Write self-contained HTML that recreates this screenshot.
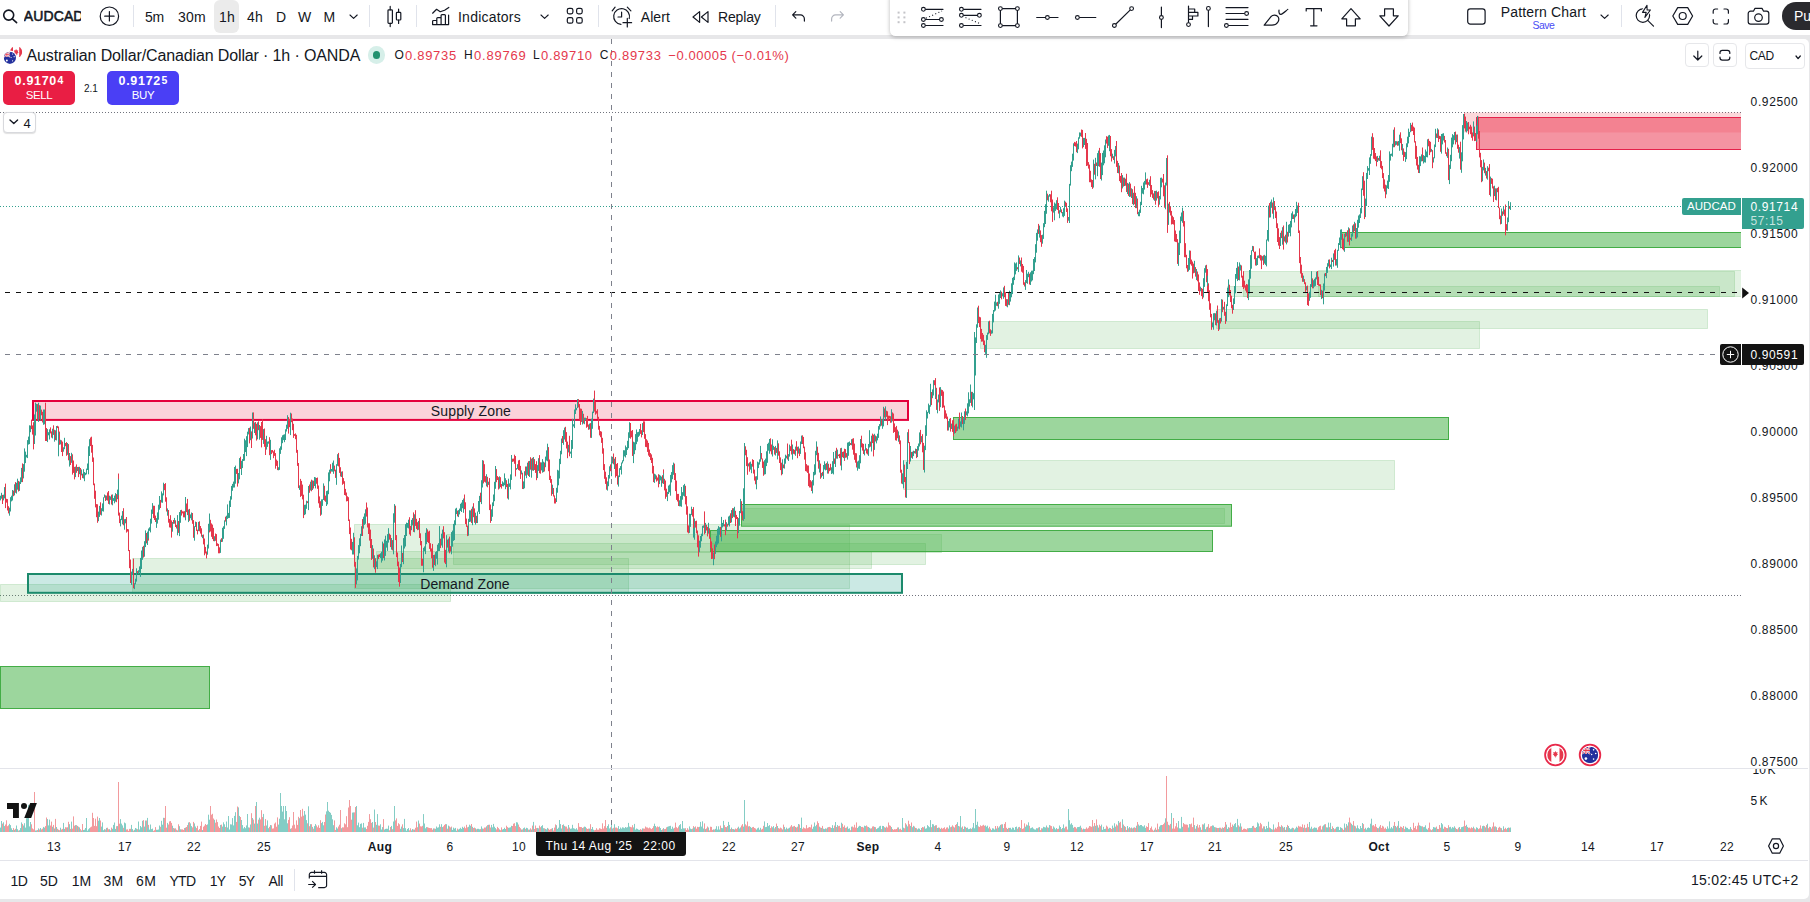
<!DOCTYPE html>
<html><head><meta charset="utf-8"><title>AUDCAD chart</title>
<style>
html,body{margin:0;padding:0}
body{width:1810px;height:902px;overflow:hidden;position:relative;background:#e7e7e9;font-family:"Liberation Sans",sans-serif;color:#131722}
.t{position:absolute;white-space:nowrap}
.i{position:absolute;overflow:visible}
#top{position:absolute;left:0;top:0;width:1810px;height:35px;background:#fff}
#pane{position:absolute;left:0;top:39px;width:1808.5px;height:859.5px;background:#fff;border-radius:0 5px 5px 0;overflow:hidden}
#float{position:absolute;left:889.5px;top:-8px;width:518px;height:43.6px;background:#fff;border-radius:5.5px;box-shadow:0 1px 4px rgba(0,0,0,.28)}
.btn{position:absolute;box-sizing:border-box;border:1px solid #e6e7ea;border-radius:4px;background:#fff}
</style></head><body>
<div id="pane"><div style="position:absolute;left:0;top:-39px;width:1810px;height:902px">
<svg style="position:absolute;left:0;top:0" width="1810" height="902" viewBox="0 0 1810 902">
<path d="M0 112.5H1741M0 595.5H1741" stroke="#70737d" stroke-width="1" stroke-dasharray="1 2" fill="none"/>
<clipPath id="plot"><rect x="0" y="39" width="1741" height="800"/></clipPath><g clip-path="url(#plot)">
<rect x="354.5" y="524.5" width="495.0" height="64.0" fill="rgba(76,175,80,0.165)" stroke="rgba(76,175,80,0.2)" stroke-width="1"/>
<rect x="446.5" y="534.5" width="495.0" height="18.0" fill="rgba(76,175,80,0.165)" stroke="rgba(76,175,80,0.2)" stroke-width="1"/>
<rect x="453.5" y="543.5" width="472.0" height="21.0" fill="rgba(76,175,80,0.165)" stroke="rgba(76,175,80,0.2)" stroke-width="1"/>
<rect x="376.5" y="551.5" width="495.0" height="17.0" fill="rgba(76,175,80,0.165)" stroke="rgba(76,175,80,0.2)" stroke-width="1"/>
<rect x="132.5" y="558.5" width="496.0" height="35.0" fill="rgba(76,175,80,0.165)" stroke="rgba(76,175,80,0.2)" stroke-width="1"/>
<rect x="0.5" y="584.5" width="450.0" height="17.0" fill="rgba(76,175,80,0.165)" stroke="rgba(76,175,80,0.2)" stroke-width="1"/>
<rect x="903.5" y="460.5" width="491.0" height="29.0" fill="rgba(76,175,80,0.165)" stroke="rgba(76,175,80,0.2)" stroke-width="1"/>
<rect x="980.5" y="321.5" width="499.0" height="27.0" fill="rgba(76,175,80,0.165)" stroke="rgba(76,175,80,0.2)" stroke-width="1"/>
<rect x="1216.5" y="309.5" width="491.0" height="19.0" fill="rgba(76,175,80,0.165)" stroke="rgba(76,175,80,0.2)" stroke-width="1"/>
<rect x="1243.5" y="271.5" width="491.0" height="25.0" fill="rgba(76,175,80,0.165)" stroke="rgba(76,175,80,0.2)" stroke-width="1"/>
<rect x="1227.5" y="286.5" width="492.0" height="10.0" fill="rgba(76,175,80,0.165)" stroke="rgba(76,175,80,0.2)" stroke-width="1"/>
<rect x="1318.5" y="270.5" width="423.0" height="26.0" fill="rgba(76,175,80,0.165)" stroke="rgba(76,175,80,0.2)" stroke-width="1"/>
<rect x="741.5" y="508.5" width="483.0" height="15.0" fill="rgba(76,175,80,0.165)" stroke="rgba(76,175,80,0.2)" stroke-width="1"/>
<rect x="0.5" y="666.5" width="209.0" height="42.0" fill="rgba(72,180,74,0.54)" stroke="#43ad46" stroke-width="1"/>
<rect x="741.5" y="504.5" width="490.0" height="21.7" fill="rgba(72,180,74,0.54)" stroke="#43ad46" stroke-width="1"/>
<rect x="710.5" y="530.5" width="502.0" height="21.0" fill="rgba(72,180,74,0.54)" stroke="#43ad46" stroke-width="1"/>
<rect x="953.5" y="417.5" width="495.0" height="22.0" fill="rgba(72,180,74,0.54)" stroke="#43ad46" stroke-width="1"/>
<rect x="1340.5" y="232.5" width="401.0" height="15.0" fill="rgba(72,180,74,0.54)" stroke="#43ad46" stroke-width="1"/>
<rect x="1464.0" y="112.5" width="277.0" height="20.0" fill="rgba(242,54,69,0.2)" stroke="none" stroke-width="0"/>
<rect x="1476.5" y="117.5" width="265.5" height="32.0" fill="rgba(235,60,85,0.55)" stroke="#e5214a" stroke-width="1"/>
</g>
<rect x="33.0" y="401.0" width="875.0" height="18.9" fill="rgba(233,30,70,0.2)" stroke="#e4003c" stroke-width="2"/>
<rect x="28.0" y="574.0" width="874.0" height="18.8" fill="rgba(8,153,129,0.21)" stroke="#1c8a6c" stroke-width="2"/>
<path d="M0 206.5H1682" stroke="#33a08f" stroke-width="1" stroke-dasharray="1 2" fill="none"/>
<path d="M2.5 494.9V504.0M5.5 483.6V508.1M6.5 498.8V502.6M7.5 499.1V510.5M8.5 506.2V513.4M13.5 490.6V496.2M15.5 482.1V492.8M18.5 480.9V491.5M22.5 463.4V482.1M31.5 419.6V429.1M32.5 425.4V434.6M33.5 422.2V449.4M37.5 404.1V419.8M39.5 405.2V419.1M41.5 409.6V415.3M42.5 411.8V422.5M45.5 402.7V441.0M46.5 428.0V441.0M50.5 427.4V433.4M51.5 431.4V437.6M53.5 425.3V434.9M55.5 430.3V440.1M57.5 425.8V428.1M58.5 426.5V450.1M59.5 431.6V444.8M61.5 440.3V452.0M62.5 441.6V456.1M65.5 443.0V446.2M66.5 442.1V455.8M68.5 444.1V460.3M70.5 456.1V465.0M72.5 454.3V474.6M73.5 460.5V472.9M74.5 466.9V479.4M76.5 464.4V472.8M78.5 466.9V477.1M80.5 468.0V479.9M82.5 473.7V478.1M90.5 437.5V446.1M91.5 436.7V452.7M92.5 444.9V461.9M93.5 457.5V485.2M94.5 483.5V498.8M95.5 490.7V507.4M96.5 504.1V517.2M97.5 504.3V522.8M100.5 502.3V514.8M105.5 495.3V501.0M107.5 492.4V500.6M108.5 491.0V503.9M111.5 494.7V504.5M116.5 494.1V502.2M118.5 473.5V515.6M119.5 512.6V523.1M123.5 508.2V525.3M126.5 517.0V532.6M127.5 529.0V531.6M128.5 529.3V551.1M129.5 550.0V568.2M130.5 559.5V583.0M133.5 558.6V588.3M137.5 571.1V572.9M143.5 545.8V557.6M146.5 533.0V543.4M148.5 530.5V540.6M153.5 505.7V518.1M154.5 505.8V520.0M155.5 515.6V522.0M160.5 499.9V508.0M164.5 484.0V490.2M165.5 483.1V501.7M166.5 497.3V511.5M168.5 510.0V522.7M169.5 518.9V527.4M170.5 515.2V527.7M171.5 520.4V537.6M173.5 520.0V523.8M175.5 520.3V527.0M176.5 524.8V528.5M178.5 521.0V532.9M179.5 512.6V523.1M181.5 509.8V515.6M182.5 511.3V513.4M183.5 511.4V517.3M184.5 511.2V517.4M186.5 503.5V512.1M187.5 498.9V515.1M189.5 508.9V520.8M192.5 513.0V523.8M193.5 520.1V537.8M196.5 522.1V530.9M197.5 529.7V534.4M199.5 521.3V531.3M200.5 526.0V533.6M201.5 528.3V536.7M203.5 534.5V544.4M204.5 538.5V555.3M205.5 546.9V553.5M206.5 551.5V558.4M209.5 515.1V532.4M210.5 519.8V531.5M211.5 523.4V536.8M212.5 524.6V539.1M213.5 527.9V541.1M215.5 533.5V540.8M216.5 534.1V546.1M217.5 543.3V545.9M218.5 543.9V553.3M219.5 547.3V553.3M221.5 538.2V542.0M225.5 516.7V521.6M236.5 468.9V473.9M237.5 468.8V486.6M240.5 456.7V469.0M249.5 427.8V443.4M251.5 431.4V448.0M253.5 412.4V428.8M255.5 422.0V435.3M256.5 423.8V440.6M258.5 421.3V430.2M260.5 426.1V437.9M261.5 422.0V447.4M262.5 419.2V439.9M264.5 428.5V446.8M265.5 439.2V455.0M269.5 442.9V447.5M269.5 437.2V455.2M271.5 450.1V454.1M272.5 450.0V452.6M273.5 451.3V458.2M274.5 449.8V455.9M275.5 453.1V468.7M276.5 459.6V465.9M277.5 460.8V470.1M288.5 417.1V433.6M289.5 418.9V427.2M291.5 413.5V422.2M292.5 418.5V430.2M293.5 423.8V437.9M294.5 434.1V435.9M295.5 433.4V439.2M296.5 434.8V452.8M297.5 449.9V465.9M298.5 463.0V488.1M300.5 478.9V494.6M300.5 486.7V496.9M301.5 480.9V495.9M302.5 484.6V499.4M303.5 494.7V518.1M307.5 501.2V503.1M309.5 484.5V492.8M311.5 479.7V491.3M313.5 480.7V488.5M316.5 478.0V483.8M317.5 477.5V488.8M318.5 485.5V503.3M319.5 496.4V507.8M320.5 501.2V515.8M324.5 485.8V500.7M325.5 495.6V501.8M330.5 464.2V473.6M334.5 465.6V471.3M335.5 469.7V477.9M338.5 452.9V466.4M339.5 457.9V472.9M340.5 467.2V476.5M342.5 471.3V484.8M343.5 478.1V483.8M344.5 481.2V495.0M345.5 488.9V495.6M346.5 492.5V501.4M347.5 496.3V501.1M348.5 497.2V521.0M349.5 519.5V534.1M350.5 527.5V549.5M351.5 538.8V550.3M354.5 537.3V566.7M355.5 561.9V587.9M362.5 519.1V536.0M366.5 502.5V516.6M367.5 507.5V527.5M368.5 523.3V534.0M369.5 523.3V540.6M370.5 529.6V548.0M371.5 539.0V559.9M373.5 548.5V567.4M375.5 558.2V572.7M378.5 554.6V559.1M379.5 554.2V557.1M383.5 543.4V558.1M389.5 533.6V539.7M390.5 534.8V543.5M390.5 537.1V547.1M392.5 540.1V550.4M395.5 505.7V540.1M396.5 535.1V557.2M397.5 552.5V566.2M398.5 561.6V582.1M399.5 567.5V586.7M402.5 552.9V562.0M409.5 517.2V534.4M410.5 525.9V535.8M413.5 512.4V531.9M415.5 510.2V525.9M416.5 518.8V528.9M417.5 522.2V530.2M419.5 518.0V538.0M420.5 533.3V545.3M421.5 541.0V565.8M421.5 550.8V562.7M422.5 558.7V565.8M427.5 529.4V542.0M428.5 531.5V543.1M429.5 530.7V548.9M430.5 543.2V551.5M431.5 548.4V558.3M432.5 543.9V567.7M434.5 554.7V565.0M440.5 538.7V548.1M443.5 526.2V538.4M444.5 532.2V562.6M445.5 549.8V564.1M447.5 539.6V547.6M449.5 536.6V553.3M450.5 546.1V551.6M451.5 544.3V553.9M457.5 510.6V516.4M464.5 494.5V509.2M465.5 502.3V524.1M466.5 518.6V526.9M467.5 525.6V536.1M471.5 508.8V523.1M473.5 503.2V517.2M474.5 508.4V522.8M476.5 515.8V523.1M480.5 492.7V502.1M483.5 460.6V483.4M484.5 464.2V481.8M485.5 476.1V482.6M487.5 476.8V487.3M489.5 478.1V510.1M490.5 504.5V522.9M496.5 469.1V482.2M497.5 476.1V480.0M498.5 477.2V489.5M500.5 477.2V487.1M501.5 484.0V488.6M506.5 480.2V487.1M507.5 483.9V498.5M512.5 458.7V461.9M513.5 458.6V461.5M514.5 454.7V463.8M515.5 456.0V476.4M518.5 460.4V470.1M519.5 459.9V470.7M520.5 465.9V478.9M522.5 472.7V489.0M525.5 466.5V475.6M528.5 461.2V476.0M530.5 457.2V469.7M532.5 457.8V470.5M534.5 459.1V470.0M535.5 464.1V472.9M536.5 461.2V480.2M539.5 455.1V473.2M540.5 462.3V473.7M542.5 461.3V472.5M544.5 462.5V471.5M548.5 447.1V471.2M549.5 459.5V480.0M550.5 475.8V482.8M551.5 479.1V495.8M553.5 488.0V496.5M554.5 495.4V503.5M555.5 498.3V503.5M562.5 436.0V443.0M565.5 426.8V441.8M566.5 432.1V448.5M567.5 441.6V458.2M569.5 435.8V456.3M578.5 399.1V407.4M579.5 404.1V419.7M580.5 408.5V424.9M581.5 408.8V421.9M583.5 413.8V423.5M586.5 418.1V427.8M587.5 415.9V426.8M588.5 424.5V429.8M590.5 423.1V437.8M594.5 390.6V411.6M595.5 401.8V414.7M596.5 410.8V413.6M597.5 409.2V418.9M598.5 416.8V429.7M599.5 425.9V435.4M600.5 431.1V437.2M601.5 431.6V442.9M602.5 437.8V448.3M602.5 439.1V453.7M603.5 448.3V470.1M604.5 464.1V478.8M605.5 471.7V483.9M606.5 477.3V489.7M610.5 464.4V471.2M613.5 453.5V464.3M615.5 457.0V477.6M616.5 463.9V476.1M617.5 463.0V484.6M630.5 423.0V438.7M631.5 430.8V437.2M632.5 430.0V455.5M632.5 446.9V455.9M640.5 423.9V433.9M641.5 430.2V437.4M643.5 421.3V432.1M644.5 421.4V438.8M645.5 434.1V446.9M646.5 439.2V447.2M647.5 440.5V451.9M648.5 442.9V455.6M649.5 449.5V457.0M650.5 453.1V460.1M651.5 454.4V463.0M652.5 457.8V473.5M653.5 465.9V482.1M656.5 475.5V481.6M657.5 477.5V480.6M658.5 474.2V487.3M662.5 475.2V483.3M663.5 469.4V483.7M664.5 478.8V490.4M665.5 480.5V498.8M666.5 488.7V496.8M674.5 463.6V480.0M675.5 473.1V491.1M676.5 480.6V499.9M677.5 493.9V501.5M678.5 493.9V506.0M685.5 485.8V504.4M686.5 496.1V514.7M687.5 506.3V532.4M688.5 525.4V533.4M692.5 509.0V516.6M693.5 507.1V533.5M695.5 521.1V527.6M696.5 520.7V533.3M697.5 530.5V547.3M698.5 535.3V556.6M704.5 511.4V534.3M706.5 524.8V530.5M707.5 526.9V536.4M709.5 528.3V538.8M710.5 537.5V548.1M711.5 541.4V559.0M712.5 548.3V558.8M714.5 544.5V559.2M720.5 526.9V536.8M723.5 520.3V526.0M724.5 524.3V526.5M725.5 519.6V535.2M727.5 523.8V526.7M730.5 513.3V523.0M732.5 508.2V518.1M735.5 510.8V526.0M736.5 514.9V519.1M737.5 517.0V538.3M741.5 501.2V515.5M742.5 511.2V520.4M745.5 446.3V455.3M746.5 449.8V466.1M747.5 457.2V474.8M749.5 462.4V471.7M752.5 459.2V466.7M753.5 460.0V473.5M753.5 468.8V473.2M754.5 469.6V480.6M755.5 476.4V484.3M761.5 453.0V459.3M762.5 458.5V467.9M763.5 461.5V475.8M770.5 438.3V451.3M771.5 444.5V454.4M774.5 447.1V454.6M776.5 447.9V452.9M778.5 443.3V455.7M779.5 451.3V463.0M780.5 457.4V470.1M781.5 462.7V475.3M783.5 464.5V468.2M787.5 443.5V459.5M790.5 446.2V451.0M791.5 439.7V454.5M793.5 449.1V453.8M794.5 449.8V454.4M796.5 441.2V450.8M797.5 446.8V458.2M799.5 448.5V456.1M802.5 435.3V444.0M803.5 436.9V448.2M804.5 446.6V459.6M805.5 452.3V471.1M806.5 464.1V471.6M807.5 465.4V472.9M808.5 465.5V486.1M809.5 473.5V487.5M810.5 480.1V487.5M811.5 481.4V491.0M817.5 446.7V461.4M818.5 452.8V468.7M820.5 463.6V478.8M822.5 471.9V475.8M826.5 463.1V469.9M828.5 463.8V473.6M829.5 467.7V471.2M830.5 463.8V470.4M834.5 458.5V463.9M836.5 447.8V458.6M838.5 454.6V456.1M839.5 453.9V458.1M840.5 448.2V465.6M842.5 451.9V457.2M843.5 451.5V458.1M844.5 448.7V460.9M845.5 449.1V457.8M846.5 453.1V457.5M850.5 443.0V445.0M852.5 438.7V449.7M853.5 438.2V454.7M854.5 443.6V459.8M855.5 453.1V462.7M856.5 453.3V467.5M861.5 435.7V447.4M862.5 443.3V450.6M863.5 443.9V454.0M866.5 448.2V453.5M867.5 449.2V454.5M870.5 441.6V446.7M872.5 433.6V443.1M873.5 434.7V456.4M875.5 435.5V441.5M881.5 419.1V425.7M884.5 408.4V417.5M886.5 410.7V416.9M887.5 411.3V425.1M888.5 415.7V420.2M889.5 415.8V418.6M890.5 416.2V422.8M892.5 412.4V421.3M893.5 413.5V432.9M894.5 423.4V432.0M895.5 427.2V440.3M896.5 425.9V440.7M897.5 429.7V438.2M899.5 435.4V444.2M900.5 440.4V472.7M901.5 469.7V483.6M904.5 464.6V482.1M905.5 477.0V489.2M905.5 478.2V497.5M908.5 429.3V443.1M909.5 442.1V464.1M911.5 451.9V457.8M914.5 451.1V453.3M916.5 449.0V458.1M920.5 429.9V444.3M922.5 434.2V452.3M923.5 442.9V469.9M931.5 392.0V405.1M934.5 380.2V385.2M935.5 378.1V399.0M936.5 387.8V409.9M939.5 387.4V410.9M941.5 389.6V395.9M942.5 390.1V407.9M943.5 391.5V407.4M944.5 405.6V418.8M945.5 410.3V418.3M946.5 413.5V419.1M947.5 416.6V430.6M950.5 418.0V431.6M952.5 420.2V431.9M953.5 419.3V436.2M955.5 424.4V433.0M956.5 423.7V431.4M959.5 412.6V429.3M962.5 416.0V424.1M965.5 409.3V413.2M965.5 408.5V420.1M971.5 391.8V405.8M978.5 305.7V323.1M979.5 316.8V327.1M980.5 317.3V338.9M981.5 328.9V341.7M982.5 333.0V341.5M983.5 334.8V345.1M984.5 340.5V352.2M989.5 320.7V333.3M990.5 329.3V335.9M995.5 296.0V306.4M997.5 301.8V306.2M1001.5 291.6V299.3M1004.5 285.8V297.2M1005.5 292.2V305.9M1006.5 299.1V306.4M1008.5 292.8V304.8M1017.5 267.2V269.3M1019.5 257.5V264.0M1021.5 257.5V271.7M1022.5 264.0V272.7M1023.5 265.9V284.8M1024.5 282.3V286.5M1026.5 277.6V283.1M1029.5 273.7V284.5M1038.5 223.9V233.9M1040.5 230.4V242.2M1041.5 235.1V246.8M1047.5 193.7V200.3M1050.5 194.3V202.3M1051.5 190.7V211.3M1052.5 199.5V221.9M1057.5 197.3V210.0M1058.5 203.0V213.6M1061.5 209.4V213.2M1065.5 201.7V206.0M1066.5 202.8V212.0M1067.5 208.4V222.9M1074.5 141.9V146.1M1075.5 142.4V146.6M1076.5 141.0V152.2M1081.5 129.5V136.9M1082.5 129.9V148.4M1085.5 133.0V148.9M1086.5 138.8V163.1M1086.5 146.8V166.0M1087.5 143.0V165.6M1088.5 162.1V168.6M1089.5 164.6V182.2M1090.5 170.8V182.3M1091.5 179.4V187.0M1092.5 180.0V188.9M1094.5 163.8V174.7M1096.5 162.5V166.0M1099.5 147.9V166.8M1100.5 153.1V179.0M1106.5 136.2V143.6M1107.5 136.7V148.1M1110.5 136.0V156.3M1111.5 149.1V161.5M1113.5 156.2V160.0M1116.5 141.0V157.4M1116.5 152.0V166.9M1117.5 160.8V173.0M1119.5 165.6V181.1M1120.5 175.9V182.8M1121.5 173.0V192.2M1123.5 177.6V186.6M1125.5 178.7V185.7M1126.5 173.8V192.0M1128.5 183.6V195.9M1130.5 183.6V196.7M1132.5 189.2V204.1M1134.5 186.2V204.3M1135.5 192.8V208.1M1137.5 198.5V214.2M1146.5 179.3V184.6M1147.5 178.6V184.0M1147.5 179.7V187.9M1148.5 182.2V184.8M1150.5 176.2V196.9M1151.5 185.0V194.4M1152.5 190.1V197.9M1153.5 193.4V199.6M1155.5 190.9V204.7M1157.5 192.1V198.3M1158.5 191.3V207.2M1162.5 178.7V182.5M1163.5 174.0V196.3M1164.5 185.3V207.7M1167.5 155.3V232.9M1169.5 201.9V212.6M1170.5 206.6V215.5M1171.5 210.9V224.5M1172.5 215.7V224.1M1173.5 217.2V224.6M1174.5 220.0V241.4M1175.5 230.5V241.9M1176.5 234.0V242.2M1177.5 239.1V263.9M1177.5 251.0V260.7M1183.5 210.9V226.5M1184.5 221.1V257.2M1185.5 243.2V257.3M1186.5 254.8V268.3M1187.5 265.0V271.9M1190.5 250.7V264.3M1191.5 259.6V265.7M1192.5 261.5V278.6M1193.5 263.6V273.3M1195.5 267.1V276.6M1197.5 271.5V281.3M1198.5 274.4V291.0M1199.5 282.4V294.8M1201.5 288.0V296.1M1202.5 288.8V299.1M1206.5 264.8V282.2M1207.5 269.1V292.9M1208.5 283.3V301.2M1209.5 290.3V309.8M1210.5 303.3V317.3M1211.5 313.9V329.8M1215.5 313.3V325.2M1217.5 305.5V322.8M1218.5 320.2V331.0M1220.5 317.9V323.5M1222.5 299.6V312.2M1224.5 301.8V315.8M1225.5 311.8V323.9M1229.5 284.7V295.3M1230.5 290.0V302.1M1231.5 295.7V308.3M1232.5 304.8V313.7M1238.5 266.5V280.0M1241.5 265.4V277.6M1242.5 275.7V287.0M1243.5 271.2V289.0M1244.5 280.7V287.6M1245.5 285.3V290.6M1246.5 284.0V292.7M1247.5 284.5V298.1M1253.5 246.2V252.2M1254.5 251.8V259.2M1255.5 251.5V265.5M1259.5 248.4V258.4M1260.5 254.9V260.5M1261.5 255.5V269.1M1263.5 255.3V265.0M1269.5 203.1V217.6M1272.5 202.5V213.7M1274.5 201.0V210.1M1275.5 207.1V218.1M1276.5 211.5V228.1M1277.5 223.3V242.0M1278.5 228.3V245.6M1279.5 237.1V249.0M1281.5 230.6V238.1M1283.5 225.5V249.6M1285.5 234.7V242.7M1287.5 231.8V242.5M1293.5 214.5V219.0M1298.5 202.7V215.8M1298.5 212.1V233.0M1299.5 230.5V263.1M1300.5 257.0V273.6M1301.5 264.7V277.8M1302.5 273.1V281.8M1304.5 279.1V284.2M1305.5 282.3V291.9M1307.5 285.6V305.1M1308.5 293.3V305.9M1312.5 278.4V288.3M1317.5 271.0V285.0M1318.5 276.8V285.7M1319.5 284.2V286.1M1320.5 284.3V295.2M1322.5 290.7V298.2M1325.5 273.0V276.2M1329.5 259.4V268.4M1332.5 259.9V262.0M1334.5 250.2V259.9M1335.5 248.8V265.6M1342.5 233.7V249.2M1343.5 238.5V250.4M1345.5 233.1V237.2M1347.5 230.3V241.8M1349.5 228.4V245.4M1350.5 237.9V239.8M1353.5 224.3V232.2M1355.5 223.3V238.7M1363.5 172.2V195.8M1364.5 180.7V219.1M1372.5 133.2V149.9M1373.5 137.3V158.7M1374.5 148.0V159.3M1375.5 153.0V161.1M1376.5 156.4V166.3M1378.5 158.0V160.6M1380.5 150.3V167.9M1381.5 161.1V169.3M1382.5 165.9V178.1M1383.5 173.1V188.6M1384.5 179.4V191.5M1385.5 184.7V198.2M1394.5 127.3V147.2M1397.5 141.4V145.8M1400.5 132.3V143.2M1401.5 138.3V150.3M1403.5 148.4V160.9M1404.5 151.7V157.0M1411.5 124.8V131.3M1412.5 122.6V131.0M1413.5 126.6V135.0M1414.5 127.6V142.5M1415.5 141.2V158.9M1416.5 145.9V165.5M1417.5 156.9V169.6M1418.5 164.8V173.0M1422.5 147.5V161.2M1428.5 138.8V146.3M1429.5 140.9V155.1M1430.5 141.8V152.3M1432.5 150.1V168.2M1436.5 133.5V137.9M1438.5 129.5V142.0M1439.5 135.8V139.1M1440.5 136.2V151.8M1444.5 135.9V142.5M1445.5 140.0V153.8M1446.5 152.3V156.2M1448.5 148.8V180.1M1455.5 131.6V144.4M1457.5 134.5V148.8M1458.5 144.7V152.7M1460.5 141.7V169.7M1464.5 113.6V128.4M1465.5 116.6V131.5M1468.5 122.0V134.3M1469.5 126.7V129.2M1470.5 124.8V134.2M1471.5 126.6V137.8M1472.5 132.4V140.7M1474.5 126.6V141.1M1475.5 132.9V140.9M1478.5 116.6V138.7M1479.5 131.0V149.2M1479.5 146.6V157.4M1480.5 152.8V167.3M1481.5 160.1V182.2M1484.5 162.6V173.2M1486.5 171.1V178.5M1488.5 167.7V171.2M1489.5 164.1V195.0M1491.5 178.1V183.9M1492.5 178.7V188.4M1493.5 186.3V202.0M1495.5 188.3V199.9M1497.5 187.9V192.2M1498.5 186.8V208.1M1499.5 207.5V219.2M1500.5 215.6V224.4M1502.5 211.4V215.9M1504.5 209.5V215.9M1505.5 204.5V235.3M1506.5 224.1V230.4M1509.5 206.0V208.8" stroke="#e5384c" stroke-width="1" fill="none"/>
<path d="M0.5 495.7V500.4M1.5 492.8V498.7M3.5 494.7V500.4M4.5 487.1V498.4M9.5 507.7V515.7M10.5 497.2V511.5M11.5 495.7V501.4M12.5 490.0V500.5M14.5 484.3V495.4M16.5 482.8V493.6M17.5 478.7V489.7M19.5 481.6V490.9M20.5 477.4V484.0M21.5 467.9V482.2M23.5 464.1V478.4M24.5 448.4V471.7M25.5 451.6V463.1M26.5 454.8V457.4M27.5 441.2V458.1M27.5 440.1V454.5M28.5 436.6V444.6M29.5 425.3V444.1M30.5 425.6V432.2M34.5 414.4V444.0M35.5 402.6V435.5M36.5 403.9V411.7M38.5 402.7V421.9M40.5 405.6V420.4M43.5 409.5V424.8M44.5 409.5V424.3M47.5 429.1V442.1M48.5 432.2V435.3M49.5 429.3V439.5M52.5 428.7V438.4M54.5 429.8V441.7M56.5 426.0V440.4M58.5 432.2V456.3M60.5 439.8V444.4M63.5 447.3V451.7M64.5 437.8V449.2M67.5 443.0V454.8M69.5 453.0V466.6M71.5 452.8V462.8M75.5 466.6V477.1M77.5 467.0V471.1M79.5 466.8V474.2M81.5 469.5V475.4M83.5 469.2V478.5M84.5 472.0V481.2M85.5 472.8V475.2M86.5 468.6V474.4M87.5 463.5V470.0M88.5 447.7V474.3M88.5 446.3V457.1M89.5 439.2V456.0M98.5 511.6V521.2M99.5 505.9V516.9M101.5 508.2V515.5M102.5 503.4V511.2M103.5 497.3V511.6M104.5 494.5V497.7M106.5 495.6V500.2M109.5 495.7V504.5M110.5 496.4V499.9M112.5 494.4V505.3M113.5 498.1V500.9M114.5 495.6V503.3M115.5 493.1V501.6M117.5 489.6V499.2M118.5 479.1V495.1M120.5 518.9V526.4M121.5 515.7V520.1M122.5 511.1V524.3M124.5 519.2V529.7M125.5 518.9V523.3M131.5 571.6V584.9M132.5 568.9V574.9M134.5 583.2V589.1M135.5 578.7V584.3M136.5 568.3V581.6M138.5 570.2V573.9M139.5 566.4V572.6M140.5 557.9V576.9M141.5 550.5V569.0M142.5 546.9V559.8M144.5 541.2V556.7M145.5 530.4V547.1M147.5 531.6V545.0M148.5 528.5V538.5M149.5 527.3V530.8M150.5 518.7V532.4M151.5 509.5V523.6M152.5 503.1V513.9M156.5 518.1V527.9M157.5 512.4V523.6M158.5 504.7V519.7M159.5 496.0V509.7M161.5 491.4V502.5M162.5 493.4V502.8M163.5 482.7V495.4M167.5 508.4V515.7M172.5 522.0V531.7M174.5 517.9V523.7M177.5 515.1V535.3M179.5 512.1V536.1M180.5 510.1V522.8M185.5 497.0V520.3M188.5 509.5V522.1M190.5 514.4V518.2M191.5 512.5V520.3M194.5 526.2V540.7M195.5 521.6V527.0M198.5 521.9V531.1M202.5 534.8V538.2M207.5 544.6V554.7M208.5 523.8V548.5M209.5 513.5V530.4M214.5 536.2V541.3M220.5 539.5V552.9M222.5 527.8V541.8M223.5 526.3V538.8M224.5 520.3V528.9M226.5 515.7V525.4M227.5 504.4V518.9M228.5 512.9V518.1M229.5 500.7V517.9M230.5 496.2V507.0M231.5 485.9V499.6M232.5 483.9V490.8M233.5 481.6V487.6M234.5 467.0V487.5M235.5 465.6V483.7M238.5 473.0V483.4M239.5 466.3V479.3M239.5 458.1V476.9M241.5 460.8V475.0M242.5 459.1V468.1M243.5 454.0V461.0M244.5 438.7V460.7M245.5 440.3V452.1M246.5 436.2V456.1M247.5 431.7V447.1M248.5 428.1V434.4M250.5 426.5V440.2M252.5 412.5V438.5M254.5 422.5V433.0M257.5 422.3V439.3M259.5 425.0V439.7M263.5 429.1V443.9M266.5 435.8V449.6M267.5 441.6V446.9M268.5 441.3V443.7M270.5 439.8V459.9M278.5 467.2V470.3M279.5 448.3V469.9M280.5 446.4V453.9M281.5 437.3V449.8M282.5 435.3V443.2M283.5 434.7V440.1M284.5 434.3V442.2M285.5 429.3V440.0M286.5 424.7V431.5M287.5 415.2V428.8M290.5 412.7V435.1M299.5 485.4V489.9M304.5 504.8V515.1M305.5 504.6V514.3M306.5 500.7V508.8M308.5 486.0V510.1M310.5 481.7V490.5M312.5 480.4V490.0M314.5 477.0V486.0M315.5 477.4V488.4M321.5 499.4V514.7M322.5 499.3V505.9M323.5 483.4V500.0M326.5 491.1V506.0M327.5 490.5V504.4M328.5 472.4V494.2M329.5 469.7V481.3M330.5 469.0V471.1M331.5 469.0V471.6M332.5 462.7V471.7M333.5 460.5V473.8M336.5 464.2V484.8M337.5 454.2V465.8M341.5 471.6V477.0M352.5 541.9V554.5M353.5 532.8V554.5M356.5 568.4V584.4M357.5 555.9V580.4M358.5 545.1V559.5M359.5 538.3V553.3M360.5 534.0V546.2M360.5 533.8V543.1M361.5 526.2V536.0M363.5 516.7V528.6M364.5 513.4V524.9M365.5 509.3V523.8M372.5 545.1V558.8M374.5 555.3V569.2M376.5 561.3V567.0M377.5 554.8V569.1M380.5 553.3V558.1M381.5 551.7V562.6M382.5 541.6V560.7M384.5 539.4V560.5M385.5 535.7V555.9M386.5 540.8V547.6M387.5 534.1V550.9M388.5 528.2V542.6M391.5 538.0V549.7M393.5 513.3V554.3M394.5 504.1V522.7M400.5 563.9V583.0M401.5 545.5V567.2M403.5 538.1V564.2M404.5 535.0V548.5M405.5 524.2V546.5M406.5 522.6V536.0M407.5 523.0V527.8M408.5 519.7V528.4M411.5 519.9V530.2M412.5 518.1V525.4M414.5 514.3V532.3M418.5 520.9V529.8M423.5 547.8V572.3M424.5 546.4V551.3M425.5 532.8V554.1M426.5 528.1V544.2M433.5 555.0V570.9M435.5 552.1V566.2M436.5 551.2V558.8M437.5 544.7V564.6M438.5 543.1V551.1M439.5 526.1V551.0M441.5 533.7V545.5M442.5 529.6V547.7M446.5 535.2V567.3M448.5 538.5V551.6M451.5 532.1V554.3M452.5 530.6V546.7M453.5 523.9V540.9M454.5 520.3V540.1M455.5 508.6V525.2M456.5 507.8V514.1M458.5 510.1V517.1M459.5 508.6V514.4M460.5 503.8V510.9M461.5 502.6V512.0M462.5 500.0V508.3M463.5 498.5V512.8M468.5 518.8V535.7M469.5 510.3V522.0M470.5 510.4V521.7M472.5 506.6V525.2M475.5 512.7V524.6M477.5 511.5V523.1M478.5 501.0V511.8M479.5 495.9V514.0M481.5 483.8V504.1M481.5 480.2V491.1M482.5 460.1V487.5M486.5 474.2V486.4M488.5 481.7V484.9M491.5 509.3V521.0M492.5 502.4V516.8M493.5 494.5V506.1M494.5 481.8V501.2M495.5 466.0V488.8M499.5 476.3V488.6M502.5 481.3V486.1M503.5 482.5V486.4M504.5 473.4V485.2M505.5 478.2V489.2M508.5 478.7V499.6M509.5 483.4V486.9M510.5 474.4V489.4M511.5 466.4V479.9M511.5 455.0V475.3M516.5 468.1V469.8M517.5 464.2V468.9M521.5 470.4V474.4M523.5 481.4V489.1M524.5 471.2V488.3M526.5 466.5V478.2M527.5 462.7V474.8M529.5 460.9V477.0M531.5 458.7V477.7M533.5 457.0V470.8M537.5 465.1V478.1M538.5 458.2V470.9M541.5 462.4V470.4M542.5 459.1V472.4M543.5 461.7V472.1M545.5 456.6V467.2M546.5 450.4V460.6M547.5 443.7V461.3M552.5 484.7V494.1M556.5 487.8V502.0M557.5 469.8V492.7M558.5 470.5V485.3M559.5 458.8V478.5M560.5 450.8V464.1M561.5 438.5V454.3M563.5 430.2V444.8M564.5 427.6V439.5M568.5 444.8V452.4M570.5 451.6V453.7M571.5 440.0V458.0M572.5 436.5V448.9M572.5 418.8V447.3M573.5 424.2V426.5M574.5 409.5V428.1M575.5 404.3V414.0M576.5 407.8V410.3M577.5 399.1V408.1M582.5 410.9V424.5M584.5 417.7V424.2M585.5 417.7V420.1M589.5 423.6V429.4M591.5 418.7V437.9M592.5 411.6V428.8M593.5 398.6V413.1M607.5 481.4V490.6M608.5 475.0V486.2M609.5 466.3V478.6M611.5 456.4V476.2M612.5 456.8V463.4M614.5 458.7V469.0M618.5 475.5V486.6M619.5 468.2V477.1M620.5 466.1V469.9M621.5 462.5V474.5M622.5 460.3V463.4M623.5 450.2V461.3M624.5 450.3V456.4M625.5 445.5V457.5M626.5 447.2V455.0M627.5 440.8V449.9M628.5 432.3V448.2M629.5 422.2V437.9M633.5 441.7V463.1M634.5 442.3V454.2M635.5 434.1V450.2M636.5 429.5V444.2M637.5 432.2V441.7M638.5 431.8V436.9M639.5 429.0V435.7M642.5 423.1V435.0M654.5 473.7V482.9M655.5 474.4V479.3M659.5 474.8V484.1M660.5 475.6V480.4M661.5 476.6V486.8M663.5 473.5V484.0M667.5 491.9V501.1M668.5 485.6V494.0M669.5 484.6V492.3M670.5 474.9V495.7M671.5 472.1V482.4M672.5 465.1V479.2M673.5 462.6V474.8M679.5 500.3V506.3M680.5 496.1V506.3M681.5 487.0V506.8M682.5 492.2V499.7M683.5 485.2V495.8M684.5 483.9V496.6M689.5 513.7V532.9M690.5 513.9V526.9M691.5 506.7V515.1M693.5 528.0V537.6M694.5 518.5V539.7M699.5 540.7V552.2M700.5 536.0V547.7M701.5 533.7V541.3M702.5 525.8V536.2M703.5 525.4V527.8M705.5 522.9V533.2M708.5 522.8V533.7M713.5 552.4V565.2M715.5 541.5V553.9M716.5 535.7V547.2M717.5 528.7V544.6M718.5 526.1V543.4M719.5 527.2V534.8M721.5 516.9V541.3M722.5 522.9V527.4M723.5 520.1V526.4M726.5 522.2V530.9M728.5 516.5V525.2M729.5 515.6V526.5M731.5 510.1V522.4M733.5 508.2V516.8M734.5 506.8V517.4M738.5 518.1V533.2M739.5 511.0V525.7M740.5 498.9V513.2M743.5 488.3V520.9M744.5 443.0V519.0M748.5 463.4V466.4M750.5 461.6V469.6M751.5 463.8V473.2M756.5 476.2V489.3M757.5 461.6V479.8M758.5 462.4V468.1M759.5 459.4V464.6M760.5 445.9V461.7M764.5 460.2V474.6M765.5 458.6V474.2M766.5 451.3V466.1M767.5 443.9V462.8M768.5 442.7V450.7M769.5 439.0V453.7M772.5 439.3V456.5M773.5 445.8V449.9M775.5 445.9V455.6M777.5 440.4V459.4M782.5 459.3V474.2M784.5 465.7V468.6M784.5 458.5V467.5M785.5 454.7V463.7M786.5 455.7V458.3M788.5 454.1V461.0M789.5 444.6V456.6M792.5 444.5V459.6M795.5 446.6V455.8M798.5 446.5V453.6M800.5 441.5V453.9M801.5 435.6V444.1M812.5 480.1V493.4M813.5 471.9V485.5M814.5 466.5V475.3M814.5 464.3V470.3M815.5 450.8V474.6M816.5 441.4V455.2M819.5 460.3V472.5M821.5 472.9V477.5M823.5 465.0V479.0M824.5 461.3V469.5M825.5 463.8V470.4M827.5 461.4V473.6M831.5 467.3V474.0M832.5 461.2V473.4M833.5 452.0V474.4M835.5 450.8V467.0M837.5 449.6V458.7M841.5 447.8V470.3M844.5 452.6V459.5M847.5 442.6V459.6M848.5 442.2V455.8M849.5 441.5V446.0M851.5 439.2V445.3M857.5 461.5V470.7M858.5 460.6V468.6M859.5 455.2V468.9M860.5 439.0V463.3M864.5 449.6V455.4M865.5 443.7V450.6M868.5 444.0V455.9M869.5 430.2V447.5M871.5 435.7V451.5M874.5 441.7V449.9M874.5 433.8V445.3M876.5 436.3V443.4M877.5 433.7V440.4M878.5 426.1V437.9M879.5 424.1V429.6M880.5 416.4V426.4M882.5 418.9V428.8M883.5 406.8V426.4M885.5 406.4V420.5M891.5 409.2V422.6M898.5 431.4V441.7M902.5 473.3V484.2M903.5 460.3V488.3M906.5 461.8V497.9M907.5 432.2V469.0M910.5 446.0V461.5M912.5 451.7V458.8M913.5 450.7V456.1M915.5 448.6V453.7M917.5 446.1V457.1M918.5 443.5V450.6M919.5 432.4V446.5M921.5 436.1V442.3M924.5 445.7V472.5M925.5 425.3V450.1M926.5 410.3V435.9M927.5 411.9V418.5M928.5 403.6V412.7M929.5 405.2V414.1M930.5 383.8V406.7M932.5 389.4V398.2M933.5 380.2V395.5M935.5 388.3V398.5M937.5 399.5V413.3M938.5 394.5V402.4M940.5 387.1V407.2M948.5 421.1V430.5M949.5 418.8V427.4M951.5 423.6V429.0M954.5 425.6V433.7M957.5 426.6V430.8M958.5 418.6V428.6M960.5 421.4V426.7M961.5 412.5V427.5M963.5 418.2V430.3M964.5 411.3V423.9M966.5 411.4V415.3M967.5 403.3V416.4M968.5 392.3V413.4M969.5 399.3V406.6M970.5 384.5V402.9M972.5 391.9V407.4M973.5 393.2V399.3M974.5 332.0V410.0M975.5 337.4V375.5M976.5 324.3V343.0M977.5 307.5V327.7M985.5 344.8V353.9M986.5 335.1V357.8M987.5 332.6V339.9M988.5 321.4V334.3M991.5 330.3V333.8M992.5 313.9V333.4M993.5 310.0V322.4M994.5 301.6V311.6M995.5 294.7V310.6M996.5 302.4V305.8M998.5 294.5V308.7M999.5 293.2V303.8M1000.5 290.4V298.0M1002.5 293.2V296.4M1003.5 287.4V298.8M1007.5 299.2V307.3M1009.5 290.7V305.2M1010.5 292.9V301.6M1011.5 283.3V297.3M1012.5 277.9V294.1M1013.5 276.8V284.8M1014.5 262.4V280.1M1015.5 263.4V274.4M1016.5 262.4V270.9M1018.5 255.4V272.1M1020.5 260.4V266.4M1025.5 280.1V289.9M1026.5 270.0V282.4M1027.5 273.7V283.8M1028.5 271.8V277.2M1030.5 272.3V285.0M1031.5 270.7V281.5M1032.5 270.6V280.4M1033.5 259.0V274.2M1034.5 257.1V271.0M1035.5 244.2V262.4M1036.5 232.9V252.7M1037.5 229.4V240.7M1039.5 225.6V237.6M1042.5 234.7V243.7M1043.5 223.2V238.9M1044.5 210.9V227.2M1045.5 204.2V224.0M1046.5 190.7V213.8M1048.5 195.3V201.7M1049.5 194.0V196.7M1053.5 207.2V212.6M1054.5 202.5V220.3M1055.5 203.6V210.9M1056.5 202.2V209.3M1056.5 200.2V209.1M1059.5 210.2V218.2M1060.5 206.8V212.2M1062.5 212.0V216.5M1063.5 208.2V217.3M1064.5 200.6V215.9M1068.5 217.0V220.7M1069.5 183.9V223.0M1070.5 165.2V185.6M1071.5 161.6V171.2M1072.5 153.7V166.9M1073.5 143.3V160.6M1077.5 143.6V153.1M1078.5 137.3V149.3M1079.5 132.4V138.7M1080.5 132.6V136.3M1083.5 137.9V147.1M1084.5 137.9V145.0M1093.5 159.6V187.6M1095.5 157.8V179.4M1097.5 153.1V176.2M1098.5 150.6V166.2M1101.5 162.6V180.5M1102.5 152.9V175.1M1103.5 150.5V165.3M1104.5 145.3V163.3M1105.5 139.5V157.3M1108.5 135.4V145.8M1109.5 134.9V151.2M1112.5 153.7V158.3M1114.5 149.9V163.5M1115.5 146.0V156.4M1118.5 163.0V173.3M1122.5 175.1V188.4M1124.5 177.6V186.0M1127.5 182.9V194.1M1129.5 182.1V197.0M1131.5 188.3V198.0M1133.5 192.8V205.2M1136.5 196.2V208.2M1138.5 211.8V216.2M1139.5 209.7V216.3M1140.5 201.8V212.9M1141.5 185.8V205.1M1142.5 188.0V193.6M1143.5 182.4V194.3M1144.5 180.9V189.6M1145.5 172.4V184.6M1149.5 179.7V185.9M1154.5 190.9V200.8M1156.5 190.6V200.6M1159.5 195.9V204.7M1160.5 177.8V199.4M1161.5 177.6V187.3M1165.5 182.6V209.3M1166.5 158.0V185.5M1168.5 203.6V224.9M1178.5 242.7V265.9M1179.5 230.6V255.0M1180.5 216.5V243.2M1181.5 212.5V221.2M1182.5 207.6V222.8M1188.5 258.0V271.4M1189.5 250.4V269.9M1194.5 260.8V272.8M1196.5 269.0V280.1M1200.5 286.7V291.3M1203.5 278.2V297.5M1204.5 268.2V286.9M1205.5 265.4V272.7M1207.5 275.6V285.9M1212.5 322.4V327.3M1213.5 313.3V329.7M1214.5 313.1V320.4M1216.5 310.9V325.5M1219.5 318.3V329.5M1221.5 299.2V321.6M1223.5 306.8V309.6M1226.5 304.3V321.4M1227.5 287.7V306.1M1228.5 279.4V297.1M1233.5 298.4V310.0M1234.5 286.0V304.0M1235.5 274.0V293.3M1236.5 267.9V278.8M1237.5 262.1V281.1M1237.5 266.2V268.8M1239.5 262.4V280.4M1240.5 264.7V270.5M1248.5 279.4V300.1M1249.5 270.0V293.5M1250.5 255.1V278.7M1251.5 250.3V268.7M1252.5 245.9V251.0M1256.5 258.1V265.7M1257.5 255.7V265.0M1258.5 255.4V258.1M1262.5 256.2V260.5M1264.5 254.8V263.6M1265.5 255.8V264.9M1266.5 239.5V266.4M1267.5 230.0V240.5M1268.5 217.9V241.6M1268.5 205.6V225.6M1270.5 201.7V217.4M1271.5 199.5V207.8M1273.5 197.4V218.8M1280.5 232.8V246.0M1282.5 227.2V244.7M1284.5 236.4V241.5M1286.5 221.8V244.4M1288.5 224.8V236.6M1289.5 224.1V233.0M1290.5 220.9V236.3M1291.5 213.3V227.4M1292.5 211.4V219.0M1294.5 214.3V222.5M1295.5 209.0V217.3M1296.5 201.8V216.2M1297.5 205.5V212.9M1303.5 275.6V281.8M1306.5 286.1V290.3M1309.5 291.8V300.8M1310.5 284.1V297.8M1311.5 271.2V287.0M1313.5 280.2V288.3M1314.5 278.8V286.7M1315.5 277.4V285.9M1316.5 271.7V279.4M1321.5 289.8V299.1M1323.5 283.5V304.3M1324.5 273.5V290.5M1326.5 266.9V278.2M1327.5 263.2V272.9M1328.5 261.4V266.5M1328.5 259.7V263.3M1330.5 264.5V267.1M1331.5 257.7V269.1M1333.5 253.4V266.6M1336.5 259.1V265.5M1337.5 249.8V267.8M1338.5 243.1V250.8M1339.5 237.5V245.0M1340.5 229.6V248.2M1341.5 229.3V239.8M1344.5 233.9V251.8M1346.5 232.1V236.3M1348.5 227.3V241.9M1351.5 233.7V240.9M1352.5 225.5V236.6M1354.5 221.8V231.2M1356.5 228.0V238.6M1357.5 219.8V237.4M1358.5 215.5V227.7M1358.5 218.6V226.5M1359.5 214.4V223.0M1360.5 208.2V218.0M1361.5 188.5V213.4M1362.5 176.2V190.1M1365.5 198.6V217.1M1366.5 172.9V206.0M1367.5 166.1V179.0M1368.5 168.1V170.7M1369.5 157.4V175.0M1370.5 154.1V163.8M1371.5 136.7V155.8M1377.5 155.9V162.0M1379.5 155.7V160.9M1386.5 185.3V194.4M1387.5 180.6V188.3M1388.5 175.0V189.0M1389.5 164.1V181.8M1389.5 151.4V169.5M1390.5 153.9V160.6M1391.5 153.6V155.8M1392.5 143.8V156.7M1393.5 129.7V147.3M1395.5 141.1V145.5M1396.5 141.2V144.8M1398.5 141.0V145.6M1399.5 134.7V150.8M1402.5 144.0V154.8M1405.5 152.1V161.9M1406.5 143.3V159.2M1407.5 136.7V147.2M1408.5 128.6V143.4M1409.5 131.9V137.0M1410.5 122.9V132.2M1419.5 160.4V173.1M1419.5 156.2V168.5M1420.5 156.4V166.1M1421.5 154.4V161.4M1423.5 155.1V163.5M1424.5 155.9V162.3M1425.5 149.5V162.6M1426.5 151.5V157.1M1427.5 139.3V157.4M1431.5 148.9V151.7M1433.5 157.3V162.5M1434.5 144.5V158.3M1435.5 128.8V147.1M1437.5 128.3V138.1M1441.5 134.0V153.6M1442.5 133.6V144.4M1443.5 133.2V140.5M1447.5 147.5V157.9M1449.5 172.8V179.4M1449.5 164.8V184.1M1450.5 154.8V168.9M1451.5 137.6V161.2M1452.5 134.1V147.3M1453.5 135.2V144.4M1454.5 132.0V140.2M1456.5 134.6V142.2M1459.5 147.1V158.6M1461.5 152.3V172.8M1462.5 125.1V161.3M1463.5 114.0V139.4M1466.5 121.0V132.4M1467.5 122.5V130.9M1473.5 121.4V136.4M1476.5 125.6V141.8M1477.5 115.9V134.3M1482.5 166.9V181.3M1483.5 159.5V170.4M1485.5 167.8V175.6M1487.5 166.2V179.7M1490.5 176.6V196.5M1494.5 185.7V196.1M1496.5 188.4V200.4M1501.5 208.6V223.9M1503.5 206.8V214.4M1507.5 217.5V230.8M1508.5 201.1V222.2M1510.5 202.2V210.0" stroke="#33a08f" stroke-width="1" fill="none"/>
<path d="M5 292.5H1741" stroke="#111" stroke-width="1.1" stroke-dasharray="5 6" fill="none"/>
<path d="M1742.2 287.6L1749 293L1742.2 298.4Z" fill="#111"/>
<path d="M5 354.5H1720M611.5 39V832" stroke="#7e818c" stroke-width="1" stroke-dasharray="5 6" fill="none"/>
<path d="M2.5 832V823.6M5.5 832V824.5M6.5 832V820.3M7.5 832V826.2M8.5 832V825.3M13.5 832V828.1M15.5 832V828.8M18.5 832V830.6M22.5 832V823.9M31.5 832V824.3M32.5 832V828.4M33.5 832V829.3M34.5 832V792.0M37.5 832V830.0M39.5 832V829.5M41.5 832V829.4M42.5 832V828.6M45.5 832V826.1M46.5 832V817.5M50.5 832V825.5M51.5 832V821.6M53.5 832V824.9M55.5 832V818.9M57.5 832V828.8M58.5 832V829.7M59.5 832V830.2M61.5 832V829.5M62.5 832V828.9M65.5 832V827.2M66.5 832V827.4M68.5 832V821.8M70.5 832V828.9M72.5 832V828.6M73.5 832V816.4M74.5 832V825.7M76.5 832V825.1M78.5 832V826.7M80.5 832V829.2M82.5 832V824.0M90.5 832V827.3M91.5 832V826.6M92.5 832V812.8M93.5 832V818.0M94.5 832V825.9M95.5 832V818.7M96.5 832V826.2M97.5 832V816.6M100.5 832V820.5M105.5 832V829.5M107.5 832V827.7M108.5 832V829.3M111.5 832V827.6M116.5 832V826.2M118.5 832V782.0M118.5 832V782.0M119.5 832V823.7M123.5 832V827.8M126.5 832V829.5M127.5 832V829.3M128.5 832V830.8M129.5 832V828.9M130.5 832V828.8M133.5 832V830.6M137.5 832V829.2M143.5 832V820.1M146.5 832V820.5M148.5 832V824.9M153.5 832V830.8M154.5 832V830.2M155.5 832V827.1M160.5 832V826.8M164.5 832V817.9M165.5 832V806.0M166.5 832V827.7M168.5 832V824.5M169.5 832V821.4M170.5 832V821.1M171.5 832V822.9M173.5 832V828.0M175.5 832V828.3M176.5 832V829.7M178.5 832V824.3M179.5 832V828.2M181.5 832V829.4M182.5 832V829.4M183.5 832V829.9M184.5 832V828.0M186.5 832V827.0M187.5 832V825.1M189.5 832V822.1M192.5 832V827.4M193.5 832V821.9M196.5 832V828.1M197.5 832V825.8M199.5 832V829.1M200.5 832V825.9M201.5 832V821.6M203.5 832V826.7M204.5 832V825.6M205.5 832V824.0M206.5 832V825.0M209.5 832V822.3M210.5 832V806.0M211.5 832V814.7M212.5 832V813.8M213.5 832V818.5M215.5 832V822.7M216.5 832V819.5M217.5 832V822.1M218.5 832V826.5M219.5 832V828.0M221.5 832V824.6M225.5 832V827.0M236.5 832V821.9M237.5 832V806.5M240.5 832V817.0M249.5 832V827.6M251.5 832V813.2M253.5 832V819.6M255.5 832V806.0M258.5 832V819.7M260.5 832V819.4M261.5 832V810.2M262.5 832V817.1M264.5 832V825.8M265.5 832V819.1M269.5 832V826.8M269.5 832V827.9M271.5 832V825.3M272.5 832V828.6M273.5 832V828.4M274.5 832V823.6M275.5 832V822.5M276.5 832V826.7M277.5 832V817.4M288.5 832V819.9M289.5 832V817.2M291.5 832V828.2M292.5 832V825.5M293.5 832V812.0M294.5 832V824.7M295.5 832V828.5M296.5 832V820.4M297.5 832V824.9M298.5 832V816.8M300.5 832V810.0M300.5 832V810.0M301.5 832V816.6M302.5 832V808.8M303.5 832V815.7M307.5 832V823.3M309.5 832V826.2M311.5 832V824.2M313.5 832V828.7M316.5 832V825.5M317.5 832V827.3M318.5 832V825.3M319.5 832V827.9M320.5 832V820.2M324.5 832V822.0M325.5 832V814.5M330.5 832V817.1M334.5 832V820.4M335.5 832V829.9M338.5 832V826.5M339.5 832V824.7M340.5 832V810.0M342.5 832V827.3M343.5 832V827.4M344.5 832V823.3M345.5 832V824.3M346.5 832V816.2M347.5 832V827.2M348.5 832V807.5M349.5 832V800.0M350.5 832V806.0M351.5 832V819.7M354.5 832V812.4M355.5 832V807.0M362.5 832V827.7M366.5 832V829.0M367.5 832V825.8M368.5 832V821.9M369.5 832V814.1M370.5 832V819.2M371.5 832V822.9M373.5 832V827.6M375.5 832V822.0M378.5 832V825.5M379.5 832V825.7M383.5 832V819.1M389.5 832V830.3M390.5 832V830.7M390.5 832V827.0M392.5 832V829.2M395.5 832V820.4M396.5 832V818.4M397.5 832V825.9M398.5 832V823.2M399.5 832V824.3M402.5 832V824.3M409.5 832V830.3M410.5 832V828.3M413.5 832V829.5M415.5 832V827.8M416.5 832V821.6M417.5 832V827.2M419.5 832V823.6M420.5 832V826.3M421.5 832V827.1M421.5 832V826.5M422.5 832V825.8M427.5 832V827.2M428.5 832V827.7M429.5 832V828.0M430.5 832V828.2M431.5 832V828.1M432.5 832V829.7M434.5 832V828.5M440.5 832V826.8M443.5 832V826.3M444.5 832V824.9M445.5 832V824.1M447.5 832V828.7M449.5 832V826.4M450.5 832V827.4M451.5 832V826.6M457.5 832V828.6M464.5 832V826.6M465.5 832V828.2M466.5 832V824.8M467.5 832V827.3M471.5 832V824.0M473.5 832V828.0M474.5 832V827.6M476.5 832V829.3M480.5 832V829.1M483.5 832V828.7M484.5 832V827.5M485.5 832V827.5M487.5 832V825.1M489.5 832V824.7M490.5 832V827.5M496.5 832V829.4M497.5 832V826.9M498.5 832V828.1M500.5 832V830.2M501.5 832V827.4M506.5 832V825.7M507.5 832V827.1M512.5 832V826.0M513.5 832V823.7M514.5 832V823.2M515.5 832V826.1M518.5 832V824.5M519.5 832V826.9M520.5 832V828.2M522.5 832V829.4M525.5 832V828.9M528.5 832V829.6M530.5 832V828.3M532.5 832V825.6M534.5 832V829.0M535.5 832V825.5M536.5 832V828.1M539.5 832V825.6M540.5 832V827.2M542.5 832V827.7M544.5 832V828.3M548.5 832V828.7M549.5 832V829.8M550.5 832V829.2M551.5 832V828.7M553.5 832V830.5M554.5 832V827.6M555.5 832V824.4M562.5 832V825.0M565.5 832V826.5M566.5 832V826.6M567.5 832V828.6M569.5 832V827.5M578.5 832V823.1M579.5 832V826.8M580.5 832V827.0M581.5 832V827.1M583.5 832V827.4M586.5 832V828.2M587.5 832V829.0M588.5 832V828.6M590.5 832V824.2M594.5 832V830.2M595.5 832V829.9M596.5 832V828.2M597.5 832V829.7M598.5 832V829.7M599.5 832V828.2M600.5 832V828.6M601.5 832V829.1M602.5 832V823.3M602.5 832V826.4M603.5 832V828.5M604.5 832V826.2M605.5 832V820.0M606.5 832V827.8M610.5 832V827.3M613.5 832V827.8M615.5 832V827.6M616.5 832V827.5M617.5 832V828.3M630.5 832V826.9M631.5 832V827.3M632.5 832V825.2M632.5 832V827.2M640.5 832V829.1M641.5 832V829.8M643.5 832V828.5M644.5 832V828.7M645.5 832V826.5M646.5 832V827.4M647.5 832V827.5M648.5 832V828.3M649.5 832V827.5M650.5 832V828.3M651.5 832V829.1M652.5 832V828.1M653.5 832V826.2M656.5 832V827.4M657.5 832V826.4M658.5 832V827.1M662.5 832V829.3M663.5 832V828.2M664.5 832V829.1M665.5 832V828.9M666.5 832V827.3M674.5 832V827.8M675.5 832V822.6M676.5 832V827.2M677.5 832V828.2M678.5 832V826.5M685.5 832V828.2M686.5 832V830.0M687.5 832V828.2M688.5 832V829.7M692.5 832V828.6M693.5 832V826.1M695.5 832V826.4M696.5 832V828.7M697.5 832V826.8M698.5 832V827.1M704.5 832V823.4M706.5 832V828.4M707.5 832V826.5M709.5 832V830.4M710.5 832V826.7M711.5 832V826.9M712.5 832V829.9M714.5 832V829.5M720.5 832V825.6M723.5 832V825.2M724.5 832V825.2M725.5 832V827.0M727.5 832V826.0M730.5 832V829.1M732.5 832V829.0M735.5 832V828.5M736.5 832V829.1M737.5 832V827.8M741.5 832V825.5M742.5 832V824.1M745.5 832V824.3M746.5 832V825.5M747.5 832V821.5M749.5 832V826.1M752.5 832V827.2M753.5 832V826.9M753.5 832V827.8M754.5 832V828.0M755.5 832V828.5M761.5 832V829.5M762.5 832V828.8M763.5 832V825.8M770.5 832V828.1M771.5 832V826.3M774.5 832V828.4M776.5 832V823.6M778.5 832V828.1M779.5 832V828.6M780.5 832V827.6M781.5 832V828.3M783.5 832V824.6M787.5 832V828.8M790.5 832V826.5M791.5 832V825.1M793.5 832V826.3M794.5 832V825.9M796.5 832V827.5M797.5 832V826.7M799.5 832V824.5M802.5 832V828.8M803.5 832V827.4M804.5 832V828.2M805.5 832V828.5M806.5 832V825.1M807.5 832V828.2M808.5 832V827.5M809.5 832V827.0M810.5 832V827.4M811.5 832V824.6M817.5 832V821.3M818.5 832V823.1M820.5 832V827.6M822.5 832V825.9M826.5 832V828.7M828.5 832V827.1M829.5 832V826.9M830.5 832V827.4M834.5 832V825.5M836.5 832V827.0M838.5 832V826.2M839.5 832V825.8M840.5 832V827.9M842.5 832V823.8M843.5 832V826.9M844.5 832V825.4M845.5 832V827.9M846.5 832V827.5M850.5 832V830.2M852.5 832V826.5M853.5 832V827.4M854.5 832V824.8M855.5 832V827.6M856.5 832V822.4M861.5 832V827.0M862.5 832V826.9M863.5 832V827.6M866.5 832V825.4M867.5 832V826.6M870.5 832V828.5M872.5 832V826.5M873.5 832V826.3M875.5 832V827.2M881.5 832V829.1M884.5 832V827.2M886.5 832V826.6M887.5 832V827.5M888.5 832V822.5M889.5 832V825.3M890.5 832V825.8M892.5 832V829.0M893.5 832V829.8M894.5 832V829.2M895.5 832V829.3M896.5 832V829.0M897.5 832V827.5M899.5 832V829.2M900.5 832V828.7M901.5 832V829.9M904.5 832V828.3M905.5 832V823.2M905.5 832V825.3M908.5 832V820.7M909.5 832V824.2M911.5 832V822.5M914.5 832V826.5M916.5 832V828.2M920.5 832V830.0M922.5 832V827.0M923.5 832V827.4M931.5 832V827.2M934.5 832V826.1M935.5 832V825.6M936.5 832V825.2M939.5 832V827.7M941.5 832V827.8M942.5 832V828.7M943.5 832V828.1M944.5 832V827.3M945.5 832V829.2M946.5 832V827.6M947.5 832V827.3M950.5 832V827.2M952.5 832V825.3M953.5 832V826.6M955.5 832V825.0M956.5 832V824.1M959.5 832V826.4M962.5 832V826.4M965.5 832V826.9M965.5 832V829.3M971.5 832V828.9M978.5 832V826.4M979.5 832V827.0M980.5 832V825.3M981.5 832V826.1M982.5 832V825.5M983.5 832V824.8M984.5 832V825.8M989.5 832V826.8M990.5 832V828.7M995.5 832V826.0M997.5 832V826.1M1001.5 832V824.3M1004.5 832V823.9M1005.5 832V822.1M1006.5 832V827.8M1008.5 832V827.9M1017.5 832V828.7M1019.5 832V826.9M1021.5 832V820.0M1022.5 832V828.9M1023.5 832V828.3M1024.5 832V823.4M1026.5 832V824.5M1029.5 832V825.8M1038.5 832V827.5M1040.5 832V830.1M1041.5 832V828.3M1047.5 832V827.3M1050.5 832V825.6M1051.5 832V826.1M1052.5 832V828.8M1057.5 832V829.1M1058.5 832V828.7M1061.5 832V829.1M1065.5 832V826.7M1066.5 832V826.6M1067.5 832V829.5M1074.5 832V826.9M1075.5 832V827.2M1076.5 832V828.5M1081.5 832V827.8M1082.5 832V829.4M1085.5 832V828.9M1086.5 832V827.5M1086.5 832V827.8M1087.5 832V828.7M1088.5 832V827.7M1089.5 832V826.0M1090.5 832V826.3M1091.5 832V826.8M1092.5 832V820.0M1094.5 832V823.0M1096.5 832V819.4M1099.5 832V824.7M1100.5 832V826.1M1106.5 832V825.6M1107.5 832V826.7M1110.5 832V828.0M1111.5 832V829.0M1113.5 832V827.8M1116.5 832V827.7M1116.5 832V824.4M1117.5 832V825.5M1119.5 832V822.7M1120.5 832V821.8M1121.5 832V827.9M1123.5 832V824.6M1125.5 832V826.9M1126.5 832V829.9M1128.5 832V828.3M1130.5 832V828.2M1132.5 832V828.4M1134.5 832V827.3M1135.5 832V827.9M1137.5 832V822.0M1146.5 832V826.3M1147.5 832V827.8M1147.5 832V827.0M1148.5 832V823.1M1150.5 832V828.1M1151.5 832V826.5M1152.5 832V829.6M1153.5 832V830.7M1155.5 832V827.7M1157.5 832V823.6M1158.5 832V829.2M1162.5 832V825.0M1163.5 832V824.1M1164.5 832V822.7M1166.5 832V776.0M1167.5 832V821.7M1169.5 832V825.4M1170.5 832V823.9M1172.5 832V828.6M1173.5 832V818.0M1174.5 832V828.6M1175.5 832V826.3M1176.5 832V823.1M1177.5 832V827.6M1177.5 832V827.7M1183.5 832V823.0M1184.5 832V824.2M1185.5 832V824.5M1186.5 832V824.5M1187.5 832V824.8M1190.5 832V824.3M1191.5 832V823.5M1192.5 832V827.1M1193.5 832V817.6M1195.5 832V828.7M1197.5 832V824.4M1198.5 832V827.6M1199.5 832V825.0M1201.5 832V829.8M1202.5 832V824.3M1206.5 832V827.3M1207.5 832V828.4M1208.5 832V824.1M1209.5 832V827.9M1210.5 832V826.4M1211.5 832V826.1M1215.5 832V827.3M1217.5 832V828.0M1218.5 832V828.0M1220.5 832V827.7M1222.5 832V827.4M1224.5 832V826.9M1225.5 832V822.0M1229.5 832V827.7M1230.5 832V822.6M1231.5 832V827.0M1232.5 832V824.5M1238.5 832V825.3M1241.5 832V826.6M1242.5 832V829.9M1243.5 832V828.8M1244.5 832V828.6M1245.5 832V829.0M1246.5 832V829.5M1247.5 832V828.2M1253.5 832V825.8M1254.5 832V827.6M1255.5 832V828.0M1259.5 832V826.3M1260.5 832V822.9M1261.5 832V824.3M1263.5 832V826.4M1269.5 832V827.5M1272.5 832V829.5M1274.5 832V829.4M1275.5 832V827.7M1276.5 832V828.6M1277.5 832V826.9M1278.5 832V822.2M1279.5 832V826.4M1281.5 832V825.2M1283.5 832V827.7M1285.5 832V829.8M1287.5 832V824.9M1293.5 832V828.1M1298.5 832V828.1M1298.5 832V825.8M1299.5 832V826.6M1300.5 832V826.5M1301.5 832V827.1M1302.5 832V824.3M1304.5 832V824.8M1305.5 832V828.1M1307.5 832V823.8M1308.5 832V827.1M1312.5 832V828.8M1317.5 832V829.7M1318.5 832V827.2M1319.5 832V826.2M1320.5 832V825.7M1322.5 832V826.4M1325.5 832V824.1M1329.5 832V827.2M1332.5 832V826.3M1334.5 832V829.2M1335.5 832V828.5M1342.5 832V828.5M1343.5 832V829.9M1345.5 832V827.6M1347.5 832V825.7M1349.5 832V817.6M1350.5 832V822.6M1353.5 832V821.1M1355.5 832V826.3M1363.5 832V824.1M1364.5 832V828.9M1372.5 832V825.5M1373.5 832V825.1M1374.5 832V826.4M1375.5 832V824.0M1376.5 832V826.9M1378.5 832V828.2M1380.5 832V825.0M1381.5 832V827.9M1382.5 832V825.8M1383.5 832V826.6M1384.5 832V828.7M1385.5 832V827.7M1394.5 832V822.0M1397.5 832V825.8M1400.5 832V826.5M1401.5 832V826.9M1403.5 832V826.0M1404.5 832V829.1M1411.5 832V828.9M1412.5 832V830.2M1413.5 832V822.8M1414.5 832V827.9M1415.5 832V826.1M1416.5 832V829.3M1417.5 832V825.7M1418.5 832V822.6M1422.5 832V826.3M1428.5 832V827.9M1429.5 832V822.6M1430.5 832V829.4M1432.5 832V829.2M1436.5 832V826.6M1438.5 832V829.0M1439.5 832V825.0M1440.5 832V827.7M1444.5 832V826.7M1445.5 832V827.2M1446.5 832V828.0M1448.5 832V825.2M1455.5 832V827.8M1457.5 832V829.3M1458.5 832V827.7M1460.5 832V829.1M1464.5 832V820.5M1465.5 832V826.0M1468.5 832V827.8M1469.5 832V827.6M1470.5 832V828.5M1471.5 832V827.3M1472.5 832V828.1M1474.5 832V828.4M1475.5 832V829.4M1478.5 832V829.1M1479.5 832V828.3M1479.5 832V829.5M1480.5 832V825.4M1481.5 832V828.6M1484.5 832V826.1M1486.5 832V825.1M1488.5 832V828.2M1489.5 832V826.8M1491.5 832V828.6M1492.5 832V826.6M1493.5 832V822.4M1495.5 832V826.4M1497.5 832V830.1M1498.5 832V827.8M1499.5 832V826.8M1500.5 832V827.8M1502.5 832V830.3M1504.5 832V828.9M1505.5 832V827.8M1506.5 832V829.2M1509.5 832V827.8" stroke="#f29a9d" stroke-width="1" fill="none"/>
<path d="M0.5 832V827.6M1.5 832V821.0M3.5 832V822.3M4.5 832V826.1M9.5 832V823.8M10.5 832V825.1M11.5 832V828.3M12.5 832V830.0M14.5 832V829.8M16.5 832V825.5M17.5 832V829.2M19.5 832V830.2M20.5 832V828.1M21.5 832V822.4M23.5 832V825.5M24.5 832V823.2M25.5 832V827.6M26.5 832V818.2M27.5 832V825.3M27.5 832V815.8M28.5 832V804.9M29.5 832V826.4M30.5 832V822.0M35.5 832V830.5M36.5 832V830.4M38.5 832V828.4M40.5 832V828.0M43.5 832V826.9M44.5 832V827.6M47.5 832V819.1M48.5 832V825.4M49.5 832V819.6M52.5 832V826.7M54.5 832V828.5M56.5 832V827.0M58.5 832V830.4M60.5 832V827.7M63.5 832V822.9M64.5 832V828.9M67.5 832V827.3M69.5 832V824.2M71.5 832V821.6M75.5 832V825.1M77.5 832V825.9M79.5 832V827.4M81.5 832V830.4M83.5 832V830.0M84.5 832V829.7M85.5 832V828.0M86.5 832V818.0M87.5 832V830.7M88.5 832V829.7M88.5 832V829.4M89.5 832V828.2M98.5 832V820.7M99.5 832V818.0M101.5 832V826.6M102.5 832V822.4M103.5 832V830.2M104.5 832V829.2M106.5 832V827.9M109.5 832V829.2M110.5 832V830.4M112.5 832V828.8M113.5 832V824.9M114.5 832V822.5M115.5 832V828.9M117.5 832V826.1M120.5 832V819.1M121.5 832V823.6M122.5 832V825.4M124.5 832V822.5M125.5 832V823.3M131.5 832V824.9M132.5 832V829.1M134.5 832V829.8M135.5 832V828.0M136.5 832V828.6M138.5 832V821.5M139.5 832V829.5M140.5 832V826.0M141.5 832V827.3M142.5 832V820.8M144.5 832V826.6M145.5 832V820.5M147.5 832V817.9M148.5 832V827.5M149.5 832V829.6M150.5 832V824.5M151.5 832V829.1M152.5 832V828.6M156.5 832V829.8M157.5 832V829.8M158.5 832V829.5M159.5 832V825.5M161.5 832V820.8M162.5 832V824.7M163.5 832V817.8M167.5 832V822.9M172.5 832V825.7M174.5 832V828.5M177.5 832V830.4M179.5 832V826.2M180.5 832V829.3M185.5 832V827.6M188.5 832V822.5M190.5 832V823.4M191.5 832V826.1M194.5 832V823.4M195.5 832V826.5M198.5 832V830.3M202.5 832V830.1M207.5 832V824.4M208.5 832V814.7M209.5 832V819.7M214.5 832V819.8M220.5 832V824.9M222.5 832V826.6M223.5 832V822.3M224.5 832V824.3M226.5 832V821.5M227.5 832V827.5M228.5 832V816.0M229.5 832V829.5M230.5 832V824.3M231.5 832V824.5M232.5 832V818.1M233.5 832V825.4M234.5 832V815.9M235.5 832V812.2M238.5 832V807.4M239.5 832V815.9M239.5 832V819.6M241.5 832V820.0M242.5 832V825.1M243.5 832V828.4M244.5 832V827.0M245.5 832V828.2M246.5 832V825.4M247.5 832V814.0M248.5 832V827.4M250.5 832V824.5M252.5 832V818.0M254.5 832V823.6M256.5 832V802.0M257.5 832V823.6M259.5 832V817.7M263.5 832V813.9M266.5 832V825.5M267.5 832V820.4M268.5 832V828.2M270.5 832V825.0M278.5 832V824.6M279.5 832V818.7M280.5 832V793.0M281.5 832V806.0M282.5 832V811.6M283.5 832V806.0M284.5 832V819.3M285.5 832V806.0M286.5 832V811.0M287.5 832V823.3M290.5 832V828.8M299.5 832V818.2M304.5 832V811.0M305.5 832V814.6M306.5 832V820.1M308.5 832V806.3M310.5 832V824.2M312.5 832V826.9M314.5 832V826.1M315.5 832V824.1M321.5 832V823.1M322.5 832V821.9M323.5 832V825.3M326.5 832V811.4M327.5 832V802.0M328.5 832V810.7M329.5 832V812.0M330.5 832V812.8M331.5 832V814.9M332.5 832V819.3M333.5 832V825.2M336.5 832V827.3M337.5 832V828.5M341.5 832V828.2M352.5 832V812.6M353.5 832V812.4M356.5 832V806.0M357.5 832V825.3M358.5 832V822.6M359.5 832V827.2M360.5 832V828.9M360.5 832V823.9M361.5 832V823.4M363.5 832V822.9M364.5 832V827.5M365.5 832V827.4M372.5 832V822.0M374.5 832V809.5M376.5 832V824.8M377.5 832V814.1M380.5 832V824.3M381.5 832V829.5M382.5 832V827.1M384.5 832V829.5M385.5 832V828.9M386.5 832V828.7M387.5 832V828.8M388.5 832V825.6M391.5 832V825.9M393.5 832V821.5M394.5 832V806.0M400.5 832V828.8M401.5 832V826.6M403.5 832V828.1M404.5 832V818.9M405.5 832V828.2M406.5 832V830.7M407.5 832V829.0M408.5 832V828.0M411.5 832V830.4M412.5 832V829.0M414.5 832V829.6M418.5 832V820.5M423.5 832V814.1M424.5 832V823.5M425.5 832V828.3M426.5 832V827.1M433.5 832V828.4M435.5 832V828.8M436.5 832V826.5M437.5 832V827.7M438.5 832V827.3M439.5 832V824.3M441.5 832V824.2M442.5 832V827.1M446.5 832V824.2M448.5 832V825.6M451.5 832V827.7M452.5 832V829.9M453.5 832V827.6M454.5 832V828.6M455.5 832V827.9M456.5 832V830.7M458.5 832V829.5M459.5 832V828.8M460.5 832V827.8M461.5 832V828.9M462.5 832V826.8M463.5 832V827.9M468.5 832V826.8M469.5 832V824.7M470.5 832V825.7M472.5 832V826.8M475.5 832V828.3M477.5 832V828.8M478.5 832V828.8M479.5 832V829.3M481.5 832V829.0M481.5 832V826.4M482.5 832V828.5M486.5 832V826.3M488.5 832V824.8M491.5 832V824.9M492.5 832V827.3M493.5 832V823.9M494.5 832V826.7M495.5 832V828.1M499.5 832V829.4M502.5 832V829.5M503.5 832V829.0M504.5 832V827.8M505.5 832V829.0M508.5 832V827.8M509.5 832V827.6M510.5 832V827.3M511.5 832V826.7M511.5 832V825.8M516.5 832V822.2M517.5 832V822.5M521.5 832V829.5M523.5 832V828.2M524.5 832V827.5M526.5 832V827.8M527.5 832V828.2M529.5 832V829.6M531.5 832V829.5M533.5 832V821.9M537.5 832V827.9M538.5 832V828.3M541.5 832V826.1M542.5 832V825.2M543.5 832V828.2M545.5 832V828.9M546.5 832V829.4M547.5 832V827.9M552.5 832V828.1M556.5 832V825.2M557.5 832V828.9M558.5 832V827.7M559.5 832V820.0M560.5 832V824.1M561.5 832V828.5M563.5 832V824.4M564.5 832V825.9M568.5 832V825.0M570.5 832V828.8M571.5 832V828.5M572.5 832V824.8M572.5 832V828.6M573.5 832V828.2M574.5 832V828.6M575.5 832V829.3M576.5 832V828.2M577.5 832V829.7M582.5 832V828.0M584.5 832V826.6M585.5 832V826.9M589.5 832V828.6M591.5 832V829.0M592.5 832V827.0M593.5 832V829.7M607.5 832V826.0M608.5 832V824.3M609.5 832V828.4M611.5 832V825.1M612.5 832V828.5M614.5 832V824.2M618.5 832V826.1M619.5 832V829.0M620.5 832V827.5M621.5 832V828.6M622.5 832V827.3M623.5 832V827.6M624.5 832V828.2M625.5 832V827.0M626.5 832V827.6M627.5 832V827.2M628.5 832V822.9M629.5 832V826.6M633.5 832V827.4M634.5 832V823.9M635.5 832V829.6M636.5 832V828.5M637.5 832V828.9M638.5 832V829.7M639.5 832V829.9M642.5 832V828.4M654.5 832V823.7M655.5 832V826.0M659.5 832V826.5M660.5 832V828.1M661.5 832V830.0M663.5 832V828.3M667.5 832V826.8M668.5 832V826.4M669.5 832V826.1M670.5 832V825.8M671.5 832V828.9M672.5 832V826.7M673.5 832V828.5M679.5 832V825.1M680.5 832V824.1M681.5 832V828.9M682.5 832V821.0M683.5 832V828.3M684.5 832V828.4M689.5 832V826.4M690.5 832V828.6M691.5 832V829.1M693.5 832V828.1M694.5 832V827.3M699.5 832V826.8M700.5 832V821.9M701.5 832V826.6M702.5 832V821.3M703.5 832V828.5M705.5 832V829.1M708.5 832V827.5M713.5 832V829.4M715.5 832V828.8M716.5 832V826.2M717.5 832V829.6M718.5 832V826.3M719.5 832V829.5M721.5 832V827.9M722.5 832V828.2M723.5 832V820.9M726.5 832V827.2M728.5 832V821.9M729.5 832V824.9M731.5 832V827.6M733.5 832V829.1M734.5 832V829.5M738.5 832V826.7M739.5 832V828.5M740.5 832V827.4M743.5 832V826.6M744.5 832V800.0M748.5 832V826.4M750.5 832V826.9M751.5 832V827.9M756.5 832V829.6M757.5 832V828.3M758.5 832V827.6M759.5 832V829.7M760.5 832V827.8M764.5 832V821.4M765.5 832V827.1M766.5 832V826.9M767.5 832V823.0M768.5 832V826.1M769.5 832V825.1M772.5 832V827.3M773.5 832V826.1M775.5 832V827.0M777.5 832V826.0M782.5 832V829.4M784.5 832V826.9M784.5 832V829.2M785.5 832V829.3M786.5 832V827.6M788.5 832V828.4M789.5 832V827.7M792.5 832V826.7M795.5 832V827.0M798.5 832V824.0M800.5 832V828.0M801.5 832V817.6M812.5 832V828.8M813.5 832V826.7M814.5 832V822.5M814.5 832V827.3M815.5 832V826.2M816.5 832V824.8M819.5 832V826.7M821.5 832V827.9M823.5 832V828.7M824.5 832V829.1M825.5 832V828.4M827.5 832V827.5M831.5 832V828.0M832.5 832V825.2M833.5 832V828.1M835.5 832V822.0M837.5 832V825.1M841.5 832V822.7M844.5 832V827.9M847.5 832V826.5M848.5 832V828.8M849.5 832V828.3M851.5 832V826.7M857.5 832V828.0M858.5 832V826.7M859.5 832V825.8M860.5 832V826.1M864.5 832V825.7M865.5 832V826.1M868.5 832V827.0M869.5 832V827.8M871.5 832V828.3M874.5 832V828.3M874.5 832V826.9M876.5 832V829.1M877.5 832V828.3M878.5 832V827.7M879.5 832V826.3M880.5 832V825.8M882.5 832V825.9M883.5 832V826.0M885.5 832V827.7M891.5 832V827.1M898.5 832V827.4M902.5 832V818.0M903.5 832V827.7M906.5 832V824.5M907.5 832V826.4M910.5 832V825.9M912.5 832V827.2M913.5 832V825.8M915.5 832V827.9M917.5 832V829.4M918.5 832V828.4M919.5 832V828.7M921.5 832V828.0M924.5 832V826.4M925.5 832V828.7M926.5 832V828.3M927.5 832V825.1M928.5 832V826.2M929.5 832V827.2M930.5 832V820.1M932.5 832V824.1M933.5 832V824.4M935.5 832V825.5M937.5 832V828.0M938.5 832V827.5M940.5 832V828.9M948.5 832V828.6M949.5 832V825.4M951.5 832V826.7M954.5 832V827.5M957.5 832V822.2M958.5 832V826.0M960.5 832V816.0M961.5 832V827.5M963.5 832V829.0M964.5 832V826.4M966.5 832V827.9M967.5 832V827.6M968.5 832V829.2M969.5 832V828.9M970.5 832V828.3M972.5 832V827.5M973.5 832V823.0M974.5 832V828.3M975.5 832V809.0M976.5 832V824.9M977.5 832V821.7M985.5 832V825.4M986.5 832V826.7M987.5 832V825.7M988.5 832V828.3M991.5 832V830.1M992.5 832V828.3M993.5 832V828.5M994.5 832V829.6M995.5 832V829.0M996.5 832V828.5M998.5 832V827.7M999.5 832V826.4M1000.5 832V824.9M1002.5 832V824.3M1003.5 832V828.1M1007.5 832V829.0M1009.5 832V827.9M1010.5 832V827.8M1011.5 832V829.3M1012.5 832V827.5M1013.5 832V827.8M1014.5 832V829.8M1015.5 832V827.0M1016.5 832V826.6M1018.5 832V827.2M1020.5 832V828.1M1025.5 832V826.7M1026.5 832V826.1M1027.5 832V825.3M1028.5 832V822.3M1030.5 832V828.3M1031.5 832V827.8M1032.5 832V827.3M1033.5 832V828.6M1034.5 832V829.4M1035.5 832V829.6M1036.5 832V828.2M1037.5 832V828.3M1039.5 832V827.1M1042.5 832V828.4M1043.5 832V826.8M1044.5 832V827.2M1045.5 832V827.5M1046.5 832V825.5M1048.5 832V827.7M1049.5 832V825.0M1053.5 832V826.4M1054.5 832V827.6M1055.5 832V829.3M1056.5 832V828.1M1056.5 832V828.6M1059.5 832V825.5M1060.5 832V827.0M1062.5 832V828.0M1063.5 832V824.4M1064.5 832V828.3M1068.5 832V809.0M1069.5 832V820.2M1070.5 832V824.4M1071.5 832V823.2M1072.5 832V824.9M1073.5 832V827.8M1077.5 832V827.1M1078.5 832V827.0M1079.5 832V826.8M1080.5 832V825.7M1083.5 832V828.6M1084.5 832V829.1M1093.5 832V826.3M1095.5 832V825.8M1097.5 832V825.3M1098.5 832V827.6M1101.5 832V824.6M1102.5 832V829.8M1103.5 832V826.8M1104.5 832V829.0M1105.5 832V828.7M1108.5 832V828.7M1109.5 832V827.8M1112.5 832V825.6M1114.5 832V823.3M1115.5 832V826.6M1118.5 832V821.0M1122.5 832V819.3M1124.5 832V826.1M1127.5 832V826.0M1129.5 832V827.0M1131.5 832V827.5M1133.5 832V827.7M1136.5 832V825.7M1138.5 832V824.5M1139.5 832V825.7M1140.5 832V825.0M1141.5 832V825.0M1142.5 832V826.2M1143.5 832V826.5M1144.5 832V825.3M1145.5 832V827.9M1149.5 832V830.0M1154.5 832V829.6M1156.5 832V829.8M1159.5 832V826.6M1160.5 832V825.3M1161.5 832V825.0M1165.5 832V818.3M1168.5 832V824.8M1171.5 832V813.0M1178.5 832V821.0M1179.5 832V828.3M1180.5 832V828.5M1181.5 832V816.9M1182.5 832V826.8M1188.5 832V827.5M1189.5 832V824.0M1194.5 832V825.1M1196.5 832V826.1M1200.5 832V827.3M1203.5 832V824.5M1204.5 832V823.3M1205.5 832V829.2M1207.5 832V826.7M1212.5 832V825.4M1213.5 832V825.6M1214.5 832V827.1M1216.5 832V827.7M1219.5 832V827.7M1221.5 832V828.6M1223.5 832V828.0M1226.5 832V824.6M1227.5 832V828.9M1228.5 832V827.2M1233.5 832V825.8M1234.5 832V824.1M1235.5 832V823.0M1236.5 832V827.2M1237.5 832V818.9M1237.5 832V824.6M1239.5 832V826.6M1240.5 832V823.3M1248.5 832V828.3M1249.5 832V828.0M1250.5 832V828.1M1251.5 832V827.9M1252.5 832V826.1M1256.5 832V827.0M1257.5 832V822.4M1258.5 832V823.5M1262.5 832V828.4M1264.5 832V826.4M1265.5 832V829.2M1266.5 832V826.0M1267.5 832V828.1M1268.5 832V821.7M1268.5 832V827.0M1270.5 832V828.2M1271.5 832V829.1M1273.5 832V824.4M1280.5 832V826.9M1282.5 832V826.4M1284.5 832V827.0M1286.5 832V827.2M1288.5 832V826.0M1289.5 832V828.0M1290.5 832V829.2M1291.5 832V828.5M1292.5 832V827.7M1294.5 832V829.5M1295.5 832V828.4M1296.5 832V826.7M1297.5 832V827.7M1303.5 832V827.7M1306.5 832V827.6M1309.5 832V822.0M1310.5 832V828.6M1311.5 832V826.7M1313.5 832V828.2M1314.5 832V827.4M1315.5 832V827.8M1316.5 832V827.8M1321.5 832V829.5M1323.5 832V825.4M1324.5 832V824.4M1326.5 832V827.3M1327.5 832V827.5M1328.5 832V825.5M1328.5 832V822.6M1330.5 832V822.8M1331.5 832V829.0M1333.5 832V828.0M1336.5 832V827.1M1337.5 832V826.7M1338.5 832V826.8M1339.5 832V830.0M1340.5 832V827.2M1341.5 832V827.9M1344.5 832V823.5M1346.5 832V824.0M1348.5 832V822.3M1351.5 832V823.8M1352.5 832V825.2M1354.5 832V825.7M1356.5 832V828.3M1357.5 832V825.3M1358.5 832V828.4M1358.5 832V828.5M1359.5 832V829.2M1360.5 832V826.0M1361.5 832V828.1M1362.5 832V823.0M1365.5 832V827.8M1366.5 832V829.5M1367.5 832V827.9M1368.5 832V827.4M1369.5 832V828.1M1370.5 832V823.7M1371.5 832V818.7M1377.5 832V828.1M1379.5 832V826.6M1386.5 832V829.1M1387.5 832V826.4M1388.5 832V828.5M1389.5 832V828.9M1389.5 832V821.4M1390.5 832V828.5M1391.5 832V827.1M1392.5 832V828.4M1393.5 832V825.8M1395.5 832V826.0M1396.5 832V827.3M1398.5 832V821.1M1399.5 832V828.0M1402.5 832V827.8M1405.5 832V826.6M1406.5 832V827.7M1407.5 832V827.9M1408.5 832V829.2M1409.5 832V829.3M1410.5 832V827.1M1419.5 832V825.3M1419.5 832V826.3M1420.5 832V825.8M1421.5 832V826.3M1423.5 832V827.2M1424.5 832V826.9M1425.5 832V825.3M1426.5 832V828.7M1427.5 832V829.6M1431.5 832V830.2M1433.5 832V827.0M1434.5 832V827.4M1435.5 832V827.6M1437.5 832V828.9M1441.5 832V823.0M1442.5 832V824.3M1443.5 832V828.7M1447.5 832V828.2M1449.5 832V828.8M1449.5 832V827.2M1450.5 832V826.8M1451.5 832V828.5M1452.5 832V827.1M1453.5 832V827.7M1454.5 832V826.3M1456.5 832V829.0M1459.5 832V827.0M1461.5 832V827.2M1462.5 832V826.9M1463.5 832V826.4M1466.5 832V824.8M1467.5 832V826.9M1473.5 832V826.7M1476.5 832V827.3M1477.5 832V827.9M1482.5 832V826.1M1483.5 832V825.7M1485.5 832V827.4M1487.5 832V823.7M1490.5 832V827.1M1494.5 832V826.5M1496.5 832V827.2M1501.5 832V828.2M1503.5 832V826.3M1507.5 832V828.0M1508.5 832V827.5M1510.5 832V827.5" stroke="#84cdc5" stroke-width="1" fill="none"/>
<path d="M0 768.5H1808M0 860.5H1808" stroke="#e3e4ea" stroke-width="1" fill="none"/>
</svg>
</div></div>
<div id="labels" style="position:absolute;left:0;top:0;width:1810px;height:902px">
<div class="t" style="left:430.8px;top:402.6px;font-size:14px;line-height:16.8px;color:#131722;letter-spacing:0.15px;">Supply Zone</div>
<div class="t" style="left:420.3px;top:575.6px;font-size:14px;line-height:16.8px;color:#131722;letter-spacing:0.06px;">Demand Zone</div>
<div class="t" style="left:1750.6px;top:94.8px;font-size:12px;line-height:14.4px;color:#131722;letter-spacing:0.63px;">0.92500</div>
<div class="t" style="left:1750.6px;top:160.8px;font-size:12px;line-height:14.4px;color:#131722;letter-spacing:0.63px;">0.92000</div>
<div class="t" style="left:1750.6px;top:226.8px;font-size:12px;line-height:14.4px;color:#131722;letter-spacing:0.63px;">0.91500</div>
<div class="t" style="left:1750.6px;top:292.8px;font-size:12px;line-height:14.4px;color:#131722;letter-spacing:0.63px;">0.91000</div>
<div class="t" style="left:1750.6px;top:358.8px;font-size:12px;line-height:14.4px;color:#131722;letter-spacing:0.63px;">0.90500</div>
<div class="t" style="left:1750.6px;top:424.8px;font-size:12px;line-height:14.4px;color:#131722;letter-spacing:0.63px;">0.90000</div>
<div class="t" style="left:1750.6px;top:490.8px;font-size:12px;line-height:14.4px;color:#131722;letter-spacing:0.63px;">0.89500</div>
<div class="t" style="left:1750.6px;top:556.8px;font-size:12px;line-height:14.4px;color:#131722;letter-spacing:0.63px;">0.89000</div>
<div class="t" style="left:1750.6px;top:622.8px;font-size:12px;line-height:14.4px;color:#131722;letter-spacing:0.63px;">0.88500</div>
<div class="t" style="left:1750.6px;top:688.8px;font-size:12px;line-height:14.4px;color:#131722;letter-spacing:0.63px;">0.88000</div>
<div class="t" style="left:1750.6px;top:754.8px;font-size:12px;line-height:14.4px;color:#131722;letter-spacing:0.63px;">0.87500</div>
<div style="position:absolute;left:1745px;top:768.6px;width:40px;height:12px;overflow:hidden"><div class="t" style="left:7.5px;top:-6.0px;font-size:12px;line-height:14.4px;color:#131722;letter-spacing:-0.02px;">10</div><div class="t" style="left:22.6px;top:-6.0px;font-size:12px;line-height:14.4px;color:#131722;letter-spacing:-1.10px;">K</div></div>
<div class="t" style="left:1750.5px;top:794.2px;font-size:12px;line-height:14.4px;color:#131722;letter-spacing:-0.17px;">5</div><div class="t" style="left:1759.6px;top:794.2px;font-size:12px;line-height:14.4px;color:#131722;letter-spacing:-0.60px;">K</div>
<div style="position:absolute;left:1682px;top:198px;width:59px;height:17px;background:#33a08f;border-radius:2px 0 0 2px"></div>
<div class="t" style="left:1687.0px;top:199.7px;font-size:11.5px;line-height:13.8px;color:#fff;letter-spacing:0.07px;">AUDCAD</div>
<div style="position:absolute;left:1742px;top:198px;width:62px;height:31px;background:#33a08f;border-radius:0 2px 2px 0"></div>
<div class="t" style="left:1750.6px;top:200.4px;font-size:12px;line-height:14.4px;color:#fff;letter-spacing:0.60px;">0.91714</div>
<div class="t" style="left:1750.6px;top:214.3px;font-size:12px;line-height:14.4px;color:rgba(255,255,255,.72);letter-spacing:0.57px;">57:15</div>
<div style="position:absolute;left:1720px;top:344px;width:21px;height:21px;background:#131313;border-radius:2px 0 0 2px"></div>
<svg class="i" style="left:1720.0px;top:344.0px;" width="21" height="21" viewBox="0 0 21 21"><circle cx="10.5" cy="10.5" r="7.7" fill="none" stroke="#fff" stroke-width="1"/><path d="M10.5 6.8V14.2M6.8 10.5H14.2" stroke="#fff" stroke-width="1" fill="none"/></svg>
<div style="position:absolute;left:1742px;top:344px;width:62px;height:21px;background:#131313;border-radius:0 2px 2px 0"></div>
<div class="t" style="left:1750.6px;top:348.4px;font-size:12px;line-height:14.4px;color:#fff;letter-spacing:0.60px;">0.90591</div>
<div class="t" style="left:46.9px;top:839.8px;font-size:12px;line-height:14.4px;color:#131722;letter-spacing:0.40px;">13</div>
<div class="t" style="left:117.9px;top:839.8px;font-size:12px;line-height:14.4px;color:#131722;letter-spacing:0.40px;">17</div>
<div class="t" style="left:186.9px;top:839.8px;font-size:12px;line-height:14.4px;color:#131722;letter-spacing:0.40px;">22</div>
<div class="t" style="left:256.9px;top:839.8px;font-size:12px;line-height:14.4px;color:#131722;letter-spacing:0.40px;">25</div>
<div class="t" style="left:367.7px;top:839.8px;font-size:12px;line-height:14.4px;color:#131722;font-weight:bold;letter-spacing:0.40px;">Aug</div>
<div class="t" style="left:446.5px;top:839.8px;font-size:12px;line-height:14.4px;color:#131722;letter-spacing:0.40px;">6</div>
<div class="t" style="left:511.9px;top:839.8px;font-size:12px;line-height:14.4px;color:#131722;letter-spacing:0.40px;">10</div>
<div class="t" style="left:721.9px;top:839.8px;font-size:12px;line-height:14.4px;color:#131722;letter-spacing:0.40px;">22</div>
<div class="t" style="left:790.9px;top:839.8px;font-size:12px;line-height:14.4px;color:#131722;letter-spacing:0.40px;">27</div>
<div class="t" style="left:856.4px;top:839.8px;font-size:12px;line-height:14.4px;color:#131722;font-weight:bold;letter-spacing:0.40px;">Sep</div>
<div class="t" style="left:934.5px;top:839.8px;font-size:12px;line-height:14.4px;color:#131722;letter-spacing:0.40px;">4</div>
<div class="t" style="left:1003.5px;top:839.8px;font-size:12px;line-height:14.4px;color:#131722;letter-spacing:0.40px;">9</div>
<div class="t" style="left:1069.9px;top:839.8px;font-size:12px;line-height:14.4px;color:#131722;letter-spacing:0.40px;">12</div>
<div class="t" style="left:1139.9px;top:839.8px;font-size:12px;line-height:14.4px;color:#131722;letter-spacing:0.40px;">17</div>
<div class="t" style="left:1207.9px;top:839.8px;font-size:12px;line-height:14.4px;color:#131722;letter-spacing:0.40px;">21</div>
<div class="t" style="left:1278.9px;top:839.8px;font-size:12px;line-height:14.4px;color:#131722;letter-spacing:0.40px;">25</div>
<div class="t" style="left:1368.4px;top:839.8px;font-size:12px;line-height:14.4px;color:#131722;font-weight:bold;letter-spacing:0.40px;">Oct</div>
<div class="t" style="left:1443.5px;top:839.8px;font-size:12px;line-height:14.4px;color:#131722;letter-spacing:0.40px;">5</div>
<div class="t" style="left:1514.5px;top:839.8px;font-size:12px;line-height:14.4px;color:#131722;letter-spacing:0.40px;">9</div>
<div class="t" style="left:1580.9px;top:839.8px;font-size:12px;line-height:14.4px;color:#131722;letter-spacing:0.40px;">14</div>
<div class="t" style="left:1649.9px;top:839.8px;font-size:12px;line-height:14.4px;color:#131722;letter-spacing:0.40px;">17</div>
<div class="t" style="left:1719.9px;top:839.8px;font-size:12px;line-height:14.4px;color:#131722;letter-spacing:0.40px;">22</div>
<div style="position:absolute;left:536px;top:832px;width:150px;height:24px;background:#131313;border-radius:0 0 3px 3px"></div>
<div class="t" style="left:545.5px;top:838.8px;font-size:12px;line-height:14.4px;color:#fff;letter-spacing:0.47px;">Thu 14 Aug '25</div>
<div class="t" style="left:643.0px;top:838.8px;font-size:12px;line-height:14.4px;color:#fff;letter-spacing:0.53px;">22:00</div>
<svg class="i" style="left:1766.0px;top:835.6px;" width="20" height="20" viewBox="0 0 20 20"><path d="M6.3 2.8h7.4l3.7 7.2-3.7 7.2H6.3L2.6 10z" fill="none" stroke="#131722" stroke-width="1.2" stroke-linecap="round" stroke-linejoin="round"/><circle cx="10" cy="10" r="2.6" fill="none" stroke="#131722" stroke-width="1.2" stroke-linecap="round" stroke-linejoin="round"/></svg>
<div class="t" style="left:10.6px;top:873.0px;font-size:14px;line-height:16.8px;color:#131722;letter-spacing:-0.65px;">1D</div>
<div class="t" style="left:40.0px;top:873.0px;font-size:14px;line-height:16.8px;color:#131722;letter-spacing:-0.15px;">5D</div>
<div class="t" style="left:71.8px;top:873.0px;font-size:14px;line-height:16.8px;color:#131722;letter-spacing:-0.17px;">1M</div>
<div class="t" style="left:103.6px;top:873.0px;font-size:14px;line-height:16.8px;color:#131722;letter-spacing:0.18px;">3M</div>
<div class="t" style="left:136.1px;top:873.0px;font-size:14px;line-height:16.8px;color:#131722;letter-spacing:0.38px;">6M</div>
<div class="t" style="left:169.4px;top:873.0px;font-size:14px;line-height:16.8px;color:#131722;letter-spacing:-0.63px;">YTD</div>
<div class="t" style="left:209.7px;top:873.0px;font-size:14px;line-height:16.8px;color:#131722;letter-spacing:-0.81px;">1Y</div>
<div class="t" style="left:238.7px;top:873.0px;font-size:14px;line-height:16.8px;color:#131722;letter-spacing:-0.61px;">5Y</div>
<div class="t" style="left:268.4px;top:873.0px;font-size:14px;line-height:16.8px;color:#131722;letter-spacing:-0.25px;">All</div>
<div style="position:absolute;left:294.0px;top:869px;width:1px;height:22px;background:#e0e3eb"></div>
<svg class="i" style="left:307.0px;top:868.0px;" width="22" height="22" viewBox="0 0 22 22"><path d="M2.3 10.6V6.6a2.2 2.2 0 0 1 2.2-2.2h12.9a2.2 2.2 0 0 1 2.2 2.2v10.8a2.2 2.2 0 0 1-2.2 2.2h-6.2M2.3 8.4H19.6M7.5 2.2V5.7M14.6 2.2V5.7M1.2 16.5H8.5M5.2 13.2l3.3 3.3-3.3 3.2" fill="none" stroke="#131722" stroke-width="1.15" stroke-linecap="butt" stroke-linejoin="round"/></svg>
<div class="t" style="left:1690.9px;top:872.0px;font-size:14px;line-height:16.8px;color:#131722;letter-spacing:0.33px;">15:02:45 UTC+2</div>
<svg class="i" style="left:7.0px;top:803.0px;" width="30" height="16" viewBox="0 0 30 16"><path d="M0 0h11.9v15H6V5.9H0z" fill="#131313"/><circle cx="17" cy="3" r="3" fill="#131313"/><path d="M23.2 0H29.9l-5.7 15h-7z" fill="#131313"/></svg>
<svg class="i" style="left:0;top:0" width="1810" height="902"><circle cx="1555.4" cy="755" r="10.3" fill="#fff" stroke="#e8294a" stroke-width="1.8"/><g><clipPath id="cca1555"><circle cx="1555.4" cy="755.0" r="8.2"/></clipPath><g clip-path="url(#cca1555)"><rect x="1547.2" y="746.8" width="16.4" height="16.4" fill="#fff"/><rect x="1547.2" y="746.8" width="4.1" height="16.4" fill="#e5384c"/><rect x="1559.5" y="746.8" width="4.1" height="16.4" fill="#e5384c"/><path d="M1555.4 750.9l.9 1.6 1.3-.4-.5 1.8 1 .3-1.5 1.3.3.8h-1.2v1.3h-.6v-1.3h-1.2l.3-.8-1.5-1.3 1-.3-.5-1.8 1.3.4z" fill="#e5384c"/></g></g><circle cx="1590" cy="755" r="10.3" fill="#fff" stroke="#e8294a" stroke-width="1.8"/><g><clipPath id="cau1590"><circle cx="1590.0" cy="755.0" r="8.2"/></clipPath><g clip-path="url(#cau1590)"><rect x="1581.8" y="746.8" width="16.4" height="16.4" fill="#23309d"/><g transform="translate(1581.8 746.8) scale(1.025)"><rect x="0" y="0" width="8" height="7" fill="#23309d"/><path d="M0 0L8 7M8 0L0 7" stroke="#fff" stroke-width="1.6"/><path d="M0 0L8 7M8 0L0 7" stroke="#e5384c" stroke-width=".7"/><path d="M4 0V7M0 3.5H8" stroke="#fff" stroke-width="2.2"/><path d="M4 0V7M0 3.5H8" stroke="#e5384c" stroke-width="1.1"/><circle cx="4" cy="11.5" r="1.3" fill="#fff"/><circle cx="11.5" cy="3" r=".8" fill="#fff"/><circle cx="13.6" cy="6.5" r=".8" fill="#fff"/><circle cx="11.5" cy="12" r=".8" fill="#fff"/><circle cx="9.6" cy="7.5" r=".7" fill="#fff"/></g></g></g></svg>
<svg class="i" style="left:0;top:0" width="40" height="80"><g><clipPath id="cca16"><circle cx="16.1" cy="52.0" r="6.1"/></clipPath><g clip-path="url(#cca16)"><rect x="10.0" y="45.9" width="12.2" height="12.2" fill="#fff"/><rect x="10.0" y="45.9" width="3.0" height="12.2" fill="#e5384c"/><rect x="19.2" y="45.9" width="3.0" height="12.2" fill="#e5384c"/><path d="M16.1 49.0l.9 1.6 1.3-.4-.5 1.8 1 .3-1.5 1.3.3.8h-1.2v1.3h-.6v-1.3h-1.2l.3-.8-1.5-1.3 1-.3-.5-1.8 1.3.4z" fill="#e5384c"/></g></g><circle cx="9.9" cy="57.8" r="7.2" fill="#fff"/><g><clipPath id="cau9"><circle cx="9.9" cy="57.8" r="6.1"/></clipPath><g clip-path="url(#cau9)"><rect x="3.8" y="51.7" width="12.2" height="12.2" fill="#23309d"/><g transform="translate(3.8 51.7) scale(0.762)"><rect x="0" y="0" width="8" height="7" fill="#23309d"/><path d="M0 0L8 7M8 0L0 7" stroke="#fff" stroke-width="1.6"/><path d="M0 0L8 7M8 0L0 7" stroke="#e5384c" stroke-width=".7"/><path d="M4 0V7M0 3.5H8" stroke="#fff" stroke-width="2.2"/><path d="M4 0V7M0 3.5H8" stroke="#e5384c" stroke-width="1.1"/><circle cx="4" cy="11.5" r="1.3" fill="#fff"/><circle cx="11.5" cy="3" r=".8" fill="#fff"/><circle cx="13.6" cy="6.5" r=".8" fill="#fff"/><circle cx="11.5" cy="12" r=".8" fill="#fff"/><circle cx="9.6" cy="7.5" r=".7" fill="#fff"/></g></g></g></svg>
<div class="t" style="left:26.5px;top:45.7px;font-size:16px;line-height:19.2px;color:#131722;letter-spacing:-0.13px;">Australian Dollar/Canadian Dollar · 1h · OANDA</div>
<div style="position:absolute;left:368px;top:46.4px;width:17.4px;height:17.4px;border-radius:50%;background:#d6efe9"></div><div style="position:absolute;left:372.9px;top:51.2px;width:7.6px;height:7.6px;border-radius:50%;background:#23916f"></div>
<div class="t" style="left:394.5px;top:48.4px;font-size:12px;line-height:14.4px;color:#131722;letter-spacing:-1.03px;">O</div>
<div class="t" style="left:405.0px;top:47.8px;font-size:13px;line-height:15.6px;color:#e5384c;letter-spacing:0.69px;">0.89735</div>
<div class="t" style="left:464.0px;top:48.4px;font-size:12px;line-height:14.4px;color:#131722;letter-spacing:-0.27px;">H</div>
<div class="t" style="left:474.0px;top:47.8px;font-size:13px;line-height:15.6px;color:#e5384c;letter-spacing:0.77px;">0.89769</div>
<div class="t" style="left:533.0px;top:48.4px;font-size:12px;line-height:14.4px;color:#131722;letter-spacing:-0.97px;">L</div>
<div class="t" style="left:541.0px;top:47.8px;font-size:13px;line-height:15.6px;color:#e5384c;letter-spacing:0.67px;">0.89710</div>
<div class="t" style="left:599.7px;top:48.4px;font-size:12px;line-height:14.4px;color:#131722;letter-spacing:-1.07px;">C</div>
<div class="t" style="left:609.7px;top:47.8px;font-size:13px;line-height:15.6px;color:#e5384c;letter-spacing:0.72px;">0.89733</div>
<div class="t" style="left:668.3px;top:47.8px;font-size:13px;line-height:15.6px;color:#e5384c;letter-spacing:0.57px;">−0.00005 (−0.01%)</div>
<div style="position:absolute;left:3px;top:71px;width:72px;height:34px;border-radius:5px;background:#e91e44"></div>
<div style="position:absolute;left:107px;top:71px;width:72px;height:34px;border-radius:5px;background:#4a3ff5"></div>
<div class="t" style="left:14.6px;top:73.9px;font-size:12.5px;line-height:15.0px;color:#fff;font-weight:bold;letter-spacing:0.69px;">0.9170</div><div class="t" style="left:57.4px;top:74.3px;font-size:10.5px;line-height:12.6px;color:#fff;font-weight:bold;letter-spacing:0.56px;">4</div>
<div class="t" style="left:25.7px;top:88.9px;font-size:11.5px;line-height:13.8px;color:#fff;letter-spacing:-0.41px;">SELL</div>
<div class="t" style="left:118.5px;top:73.9px;font-size:12.5px;line-height:15.0px;color:#fff;font-weight:bold;letter-spacing:0.71px;">0.9172</div><div class="t" style="left:161.4px;top:74.3px;font-size:10.5px;line-height:12.6px;color:#fff;font-weight:bold;letter-spacing:0.46px;">5</div>
<div class="t" style="left:131.8px;top:88.9px;font-size:11.5px;line-height:13.8px;color:#fff;letter-spacing:-0.42px;">BUY</div>
<div class="t" style="left:84.0px;top:83.2px;font-size:10px;line-height:12.0px;color:#131722;letter-spacing:-0.03px;">2.1</div>
<div class="btn" style="left:3.4px;top:112.4px;width:32.2px;height:20.2px;border-radius:4px;border-color:#d8d9dd;box-shadow:0 0.5px 1px rgba(0,0,0,.12)"></div>
<svg class="i" style="left:8.6px;top:119.3px;" width="9.6" height="5.6" viewBox="0 0 9.6 5.6"><path d="M1 1L4.8 4.6L8.6 1" fill="none" stroke="#131722" stroke-width="1.35" stroke-linecap="round" stroke-linejoin="round"/></svg>
<div class="t" style="left:23.5px;top:115.6px;font-size:13px;line-height:15.6px;color:#131722;letter-spacing:0.07px;">4</div>
<div class="btn" style="left:1685.2px;top:43.2px;width:23.6px;height:23.5px"></div>
<svg class="i" style="left:1685.5px;top:43.2px;" width="23.5" height="23.5" viewBox="0 0 23.5 23.5"><path d="M11.8 8.2v8.6M7.8 13l4 4 4-4" fill="none" stroke="#131722" stroke-width="1.2" stroke-linecap="round" stroke-linejoin="round"/></svg>
<div class="btn" style="left:1713.4px;top:43.2px;width:23.5px;height:23.5px"></div>
<svg class="i" style="left:1713.4px;top:43.2px;" width="23.5" height="23.5" viewBox="0 0 23.5 23.5"><path d="M7 10.4V9.6a2.3 2.3 0 0 1 2.3-2.3h5.2a2.3 2.3 0 0 1 2.3 2.3v.8M7 14v.8a2.3 2.3 0 0 0 2.3 2.3h5.2a2.3 2.3 0 0 0 2.3-2.3V14" fill="none" stroke="#131722" stroke-width="1.2" stroke-linecap="round" stroke-linejoin="round"/></svg>
<div class="btn" style="left:1745.3px;top:43.2px;width:59.4px;height:25.5px"></div>
<div class="t" style="left:1749.5px;top:49.0px;font-size:12px;line-height:14.4px;color:#131722;letter-spacing:-0.35px;">CAD</div>
<svg class="i" style="left:1794.6px;top:55.0px;" width="6.3" height="4.6" viewBox="0 0 6.3 4.6"><path d="M1 1L3.1 3.6L5.3 1" fill="none" stroke="#131722" stroke-width="1.25" stroke-linecap="round" stroke-linejoin="round"/></svg>
</div>
<div id="top">
<div style="position:absolute;left:214px;top:-0.5px;width:25px;height:33.2px;background:#ebebeb;border-radius:6px"></div>
<svg class="i" style="left:0.0px;top:0.0px;" width="20" height="26" viewBox="0 0 20 26"><circle cx="8.7" cy="15.1" r="5" fill="none" stroke="#131722" stroke-width="1.6"/><path d="M12.4 18.8l4.2 3.9" fill="none" stroke="#131722" stroke-width="1.6" stroke-linecap="round"/></svg>
<div style="position:absolute;left:24px;top:0;width:57.4px;height:34px;overflow:hidden"><div class="t" style="left:-0.2px;top:8.4px;font-size:14px;line-height:16.8px;color:#131722;letter-spacing:0.00px;-webkit-text-stroke:0.55px #131722;letter-spacing:0.1px;">AUDCAD</div></div>
<svg class="i" style="left:99.0px;top:6.4px;" width="21" height="21" viewBox="0 0 21 21"><circle cx="10.4" cy="10.2" r="9.2" fill="none" stroke="#131722" stroke-width="1.2" stroke-linecap="round" stroke-linejoin="round"/><path d="M10.4 5.5v9.4M5.7 10.2h9.4" fill="none" stroke="#131722" stroke-width="1.2" stroke-linecap="round" stroke-linejoin="round"/></svg>
<div style="position:absolute;left:133.0px;top:5px;width:1px;height:22px;background:#e0e3eb"></div>
<div class="t" style="left:145.0px;top:8.6px;font-size:14px;line-height:16.8px;color:#131722;letter-spacing:-0.22px;">5m</div>
<div class="t" style="left:178.0px;top:8.6px;font-size:14px;line-height:16.8px;color:#131722;letter-spacing:0.26px;">30m</div>
<div class="t" style="left:219.0px;top:8.6px;font-size:14px;line-height:16.8px;color:#131722;letter-spacing:0.21px;">1h</div>
<div class="t" style="left:247.0px;top:8.6px;font-size:14px;line-height:16.8px;color:#131722;letter-spacing:0.21px;">4h</div>
<div class="t" style="left:276.0px;top:8.6px;font-size:14px;line-height:16.8px;color:#131722;letter-spacing:-1.11px;">D</div>
<div class="t" style="left:298.0px;top:8.6px;font-size:14px;line-height:16.8px;color:#131722;letter-spacing:-1.21px;">W</div>
<div class="t" style="left:323.6px;top:8.6px;font-size:14px;line-height:16.8px;color:#131722;letter-spacing:-0.66px;">M</div>
<svg class="i" style="left:348.6px;top:13.5px;" width="9.2" height="5.4" viewBox="0 0 9.2 5.4"><path d="M1 1L4.6 4.4L8.2 1" fill="none" stroke="#131722" stroke-width="1.1" stroke-linecap="round" stroke-linejoin="round"/></svg>
<div style="position:absolute;left:368.8px;top:5px;width:1px;height:22px;background:#e0e3eb"></div>
<svg class="i" style="left:384.0px;top:4.0px;" width="20" height="24" viewBox="0 0 20 24"><path d="M6.2 2.4v3.4M6.2 19.4v3.2M14.6 5.2v3.2M14.6 16v3.4" fill="none" stroke="#131722" stroke-width="1.2" stroke-linecap="round" stroke-linejoin="round"/><rect x="4" y="5.8" width="4.4" height="13.6" rx=".8" fill="none" stroke="#131722" stroke-width="1.2" stroke-linecap="round" stroke-linejoin="round"/><rect x="12.4" y="8.4" width="4.4" height="7.6" rx=".8" fill="none" stroke="#131722" stroke-width="1.2" stroke-linecap="round" stroke-linejoin="round"/></svg>
<div style="position:absolute;left:416.0px;top:5px;width:1px;height:22px;background:#e0e3eb"></div>
<svg class="i" style="left:430.0px;top:5.0px;" width="22" height="22" viewBox="0 0 22 22"><path d="M2.6 8.2l4-3.9 3.6 2.4 4.4-1.4 4.2-2.9" fill="none" stroke="#131722" stroke-width="1.2" stroke-linecap="round" stroke-linejoin="round"/><path d="M2.6 19.6v-3.2a.9.9 0 0 1 .9-.9h2.4a.9.9 0 0 1 .9.9v3.2M6.8 19.6v-6a.9.9 0 0 1 .9-.9h2.5a.9.9 0 0 1 .9.9v6M11.1 19.6v-9a.9.9 0 0 1 .9-.9h2.5a.9.9 0 0 1 .9.9v9h3.2V10M2.6 19.6h16" fill="none" stroke="#131722" stroke-width="1.2" stroke-linecap="round" stroke-linejoin="round"/></svg>
<div class="t" style="left:458.0px;top:8.6px;font-size:14px;line-height:16.8px;color:#131722;letter-spacing:0.23px;">Indicators</div>
<svg class="i" style="left:539.6px;top:13.5px;" width="9.2" height="5.4" viewBox="0 0 9.2 5.4"><path d="M1 1L4.6 4.4L8.2 1" fill="none" stroke="#131722" stroke-width="1.1" stroke-linecap="round" stroke-linejoin="round"/></svg>
<svg class="i" style="left:565.8px;top:7.4px;" width="18" height="18" viewBox="0 0 18 18"><rect x="1.3" y="1.3" width="5.6" height="5.6" rx="1.8" fill="none" stroke="#131722" stroke-width="1.2" stroke-linecap="round" stroke-linejoin="round"/><rect x="10.6" y="1.3" width="5.6" height="5.6" rx="1.8" fill="none" stroke="#131722" stroke-width="1.2" stroke-linecap="round" stroke-linejoin="round"/><rect x="1.3" y="10.6" width="5.6" height="5.6" rx="1.8" fill="none" stroke="#131722" stroke-width="1.2" stroke-linecap="round" stroke-linejoin="round"/><rect x="10.6" y="10.6" width="5.6" height="5.6" rx="1.8" fill="none" stroke="#131722" stroke-width="1.2" stroke-linecap="round" stroke-linejoin="round"/></svg>
<div style="position:absolute;left:597.9px;top:5px;width:1px;height:22px;background:#e0e3eb"></div>
<svg class="i" style="left:610.0px;top:5.0px;" width="24" height="24" viewBox="0 0 24 24"><path d="M2.2 5.8L5.1 2.2M17.3 2.2L20.9 5.8" fill="none" stroke="#131722" stroke-width="1.2" stroke-linecap="round" stroke-linejoin="round"/><path d="M19.23 13.54A7.9 7.9 0 1 0 10.91 19.37" fill="none" stroke="#131722" stroke-width="1.2" stroke-linecap="round" stroke-linejoin="round"/><path d="M11.6 7.2V12H8M17.3 13.4V22M13 17.7H21.6" fill="none" stroke="#131722" stroke-width="1.2" stroke-linecap="round" stroke-linejoin="round"/></svg>
<div class="t" style="left:640.7px;top:8.6px;font-size:14px;line-height:16.8px;color:#131722;letter-spacing:0.10px;">Alert</div>
<svg class="i" style="left:691.0px;top:10.0px;" width="20" height="14" viewBox="0 0 20 14"><path d="M8.6 1.6L2 7l6.6 5.4zM17 1.6L10.4 7 17 12.4z" fill="none" stroke="#131722" stroke-width="1.2" stroke-linecap="round" stroke-linejoin="round"/></svg>
<div class="t" style="left:718.0px;top:8.6px;font-size:14px;line-height:16.8px;color:#131722;letter-spacing:-0.16px;">Replay</div>
<div style="position:absolute;left:775.0px;top:5px;width:1px;height:22px;background:#e0e3eb"></div>
<svg class="i" style="left:790.0px;top:9.0px;" width="18" height="14" viewBox="0 0 18 14"><path d="M5.8 2.6L2.6 5.9l3.2 3.3M3 5.9h7.4a4 4 0 0 1 4 4v2.2" fill="none" stroke="#131722" stroke-width="1.2" stroke-linecap="round" stroke-linejoin="round"/></svg>
<svg class="i" style="left:828.0px;top:9.0px;" width="18" height="14" viewBox="0 0 18 14"><path d="M12.2 2.6l3.2 3.3-3.2 3.3M15 5.9H7.6a4 4 0 0 0-4 4v2.2" fill="none" stroke="#b2b5be" stroke-width="1.2" stroke-linecap="round" stroke-linejoin="round"/></svg>
<div id="float"></div><svg class="i" style="left:897.0px;top:11.0px;" width="10" height="13" viewBox="0 0 10 13"><rect x="0.6" y="0.6" width="2" height="2" fill="#c4c4c8"/><rect x="0.6" y="5.4" width="2" height="2" fill="#c4c4c8"/><rect x="0.6" y="10.2" width="2" height="2" fill="#c4c4c8"/><rect x="6.4" y="0.6" width="2" height="2" fill="#c4c4c8"/><rect x="6.4" y="5.4" width="2" height="2" fill="#c4c4c8"/><rect x="6.4" y="10.2" width="2" height="2" fill="#c4c4c8"/></svg><svg class="i" style="left:919.0px;top:5.0px;" width="28" height="25" viewBox="0 0 28 25"><path d="M4.4 4.3H24M4.4 14.5H22M4.4 20.5H24" fill="none" stroke="#131722" stroke-width="1.2" stroke-linecap="round" stroke-linejoin="round"/><path d="M7 13.2L23 6" stroke="#131722" stroke-width="1.1" stroke-dasharray="1 2.4" fill="none"/><circle cx="4.4" cy="4.3" r="1.9" fill="#fff" stroke="#131722" stroke-width="1.1"/><circle cx="4.4" cy="14.5" r="1.9" fill="#fff" stroke="#131722" stroke-width="1.1"/><circle cx="22.4" cy="14.5" r="1.9" fill="#fff" stroke="#131722" stroke-width="1.1"/><circle cx="4.4" cy="20.5" r="1.9" fill="#fff" stroke="#131722" stroke-width="1.1"/></svg><svg class="i" style="left:957.0px;top:5.0px;" width="28" height="25" viewBox="0 0 28 25"><path d="M4.4 4.3H24M4.4 10.3H22M4.4 20.5H24" fill="none" stroke="#131722" stroke-width="1.2" stroke-linecap="round" stroke-linejoin="round"/><path d="M8.5 12.6L23.5 18.8" stroke="#131722" stroke-width="1.1" stroke-dasharray="1 2.4" fill="none"/><circle cx="4.4" cy="4.3" r="1.9" fill="#fff" stroke="#131722" stroke-width="1.1"/><circle cx="4.4" cy="10.3" r="1.9" fill="#fff" stroke="#131722" stroke-width="1.1"/><circle cx="22.4" cy="10.3" r="1.9" fill="#fff" stroke="#131722" stroke-width="1.1"/><circle cx="4.4" cy="20.5" r="1.9" fill="#fff" stroke="#131722" stroke-width="1.1"/></svg><svg class="i" style="left:996.0px;top:5.0px;" width="26" height="25" viewBox="0 0 26 25"><rect x="4.4" y="3.6" width="17" height="17" fill="none" stroke="#131722" stroke-width="1.2" stroke-linecap="round" stroke-linejoin="round"/><circle cx="4.4" cy="3.6" r="1.9" fill="#fff" stroke="#131722" stroke-width="1.1"/><circle cx="21.4" cy="3.6" r="1.9" fill="#fff" stroke="#131722" stroke-width="1.1"/><circle cx="4.4" cy="20.6" r="1.9" fill="#fff" stroke="#131722" stroke-width="1.1"/><circle cx="21.4" cy="20.6" r="1.9" fill="#fff" stroke="#131722" stroke-width="1.1"/></svg><svg class="i" style="left:1035.0px;top:10.0px;" width="26" height="15" viewBox="0 0 26 15"><path d="M1.7 7.5H23" fill="none" stroke="#131722" stroke-width="1.2" stroke-linecap="round" stroke-linejoin="round"/><circle cx="12.4" cy="7.5" r="1.9" fill="#fff" stroke="#131722" stroke-width="1.1"/></svg><svg class="i" style="left:1072.0px;top:10.0px;" width="26" height="15" viewBox="0 0 26 15"><path d="M3.5 7.5H23.8" fill="none" stroke="#131722" stroke-width="1.2" stroke-linecap="round" stroke-linejoin="round"/><circle cx="5.4" cy="7.5" r="1.9" fill="#fff" stroke="#131722" stroke-width="1.1"/></svg><svg class="i" style="left:1111.0px;top:5.0px;" width="24" height="25" viewBox="0 0 24 25"><path d="M3.4 20.5L20.6 3.6" fill="none" stroke="#131722" stroke-width="1.2" stroke-linecap="round" stroke-linejoin="round"/><circle cx="3.4" cy="20.5" r="1.9" fill="#fff" stroke="#131722" stroke-width="1.1"/><circle cx="20.6" cy="3.6" r="1.9" fill="#fff" stroke="#131722" stroke-width="1.1"/></svg><svg class="i" style="left:1156.0px;top:5.0px;" width="12" height="25" viewBox="0 0 12 25"><path d="M5.4 2v20.6" fill="none" stroke="#131722" stroke-width="1.2" stroke-linecap="round" stroke-linejoin="round"/><circle cx="5.4" cy="12.5" r="1.9" fill="#fff" stroke="#131722" stroke-width="1.1"/></svg><svg class="i" style="left:1184.0px;top:4.0px;" width="30" height="26" viewBox="0 0 30 26"><path d="M4.5 2V19M4.5 5h6.2v3.4H4.5M10.7 8.4h3.2v3.6H4.5M4.5 12h4v3.4h-4M24.4 5.8V22.6" fill="none" stroke="#131722" stroke-width="1.2" stroke-linecap="round" stroke-linejoin="round"/><circle cx="4.5" cy="20.6" r="1.9" fill="#fff" stroke="#131722" stroke-width="1.1"/><circle cx="24.4" cy="4.4" r="1.9" fill="#fff" stroke="#131722" stroke-width="1.1"/></svg><svg class="i" style="left:1222.0px;top:5.0px;" width="30" height="25" viewBox="0 0 30 25"><path d="M4 2.6H26M4 8.5H24M4 14.3H26M4.8 20.5H26" fill="none" stroke="#131722" stroke-width="1.2" stroke-linecap="round" stroke-linejoin="round"/><circle cx="24.6" cy="8.5" r="1.9" fill="#fff" stroke="#131722" stroke-width="1.1"/><circle cx="4.4" cy="20.5" r="1.9" fill="#fff" stroke="#131722" stroke-width="1.1"/></svg><svg class="i" style="left:1262.0px;top:7.0px;" width="28" height="21" viewBox="0 0 28 21"><path d="M2.2 18.2L9 9.7C10.6 7.7 14.6 7.5 16.2 10 18 13 15.4 18.2 10 18.2z" fill="none" stroke="#131722" stroke-width="1.2" stroke-linecap="round" stroke-linejoin="round"/><path d="M17 3.2C16.6 5.6 17.4 7.5 18.9 7.4 20.6 7 23.5 4.2 25.8 2.4" fill="none" stroke="#131722" stroke-width="1.2" stroke-linecap="round" stroke-linejoin="round"/></svg><svg class="i" style="left:1304.0px;top:7.0px;" width="20" height="21" viewBox="0 0 20 21"><path d="M2.2 4V1.6H17.4V4M9.8 1.6V18.8M6.6 18.8H13" fill="none" stroke="#131722" stroke-width="1.2" stroke-linecap="round" stroke-linejoin="round"/></svg><svg class="i" style="left:1340.0px;top:6.5px;" width="22" height="21" viewBox="0 0 22 21"><path d="M11 1.6l9.2 10.2h-4.8v7H6.6v-7H1.8z" fill="none" stroke="#131722" stroke-width="1.2" stroke-linecap="round" stroke-linejoin="round"/></svg><svg class="i" style="left:1378.0px;top:6.5px;" width="22" height="21" viewBox="0 0 22 21"><path d="M11 19l9.2-10.2h-4.8v-7H6.6v7H1.8z" fill="none" stroke="#131722" stroke-width="1.2" stroke-linecap="round" stroke-linejoin="round"/></svg>
<svg class="i" style="left:1466.0px;top:8.0px;" width="21" height="18" viewBox="0 0 21 18"><rect x="1.7" y=".9" width="17.4" height="15.3" rx="2.6" fill="none" stroke="#131722" stroke-width="1.2" stroke-linecap="round" stroke-linejoin="round"/></svg>
<div class="t" style="left:1500.7px;top:3.9px;font-size:14px;line-height:16.8px;color:#131722;letter-spacing:0.17px;">Pattern Chart</div>
<div class="t" style="left:1532.5px;top:19.1px;font-size:10.5px;line-height:12.6px;color:#4a4cf5;letter-spacing:-0.51px;">Save</div>
<svg class="i" style="left:1600.4px;top:13.5px;" width="9.2" height="5.4" viewBox="0 0 9.2 5.4"><path d="M1 1L4.6 4.4L8.2 1" fill="none" stroke="#131722" stroke-width="1.1" stroke-linecap="round" stroke-linejoin="round"/></svg>
<div style="position:absolute;left:1620.9px;top:5px;width:1px;height:22px;background:#e0e3eb"></div>
<svg class="i" style="left:1630.0px;top:0.0px;" width="30" height="30" viewBox="0 0 30 30"><circle cx="12.9" cy="15.6" r="6.7" fill="none" stroke="#131722" stroke-width="1.2" stroke-linecap="round" stroke-linejoin="round"/><path d="M17.7 20.4l5.8 5.8" fill="none" stroke="#131722" stroke-width="1.2" stroke-linecap="round" stroke-linejoin="round"/><path d="M17 5.2L12.5 12.4h3.7l-1.3 5 5.5-7.4h-3.3z" fill="#fff" stroke="#fff" stroke-width="3.2" stroke-linejoin="round"/><path d="M17 5.2L12.5 12.4h3.7l-1.3 5 5.5-7.4h-3.3z" fill="#fff" stroke="#131722" stroke-width="1.1" stroke-linejoin="round"/></svg>
<svg class="i" style="left:1671.0px;top:6.2px;" width="24" height="20" viewBox="0 0 24 20"><path d="M6.7 1.6h10l4.9 8.4-4.9 8.4h-10L1.8 10z" fill="none" stroke="#131722" stroke-width="1.2" stroke-linecap="round" stroke-linejoin="round"/><circle cx="11.7" cy="10" r="3.5" fill="none" stroke="#131722" stroke-width="1.2" stroke-linecap="round" stroke-linejoin="round"/></svg>
<svg class="i" style="left:1712.0px;top:7.8px;" width="18" height="18" viewBox="0 0 18 18"><path d="M1.2 5.2V3.2A2.2 2.2 0 0 1 3.4 1h2.2M12 1h2.2a2.2 2.2 0 0 1 2.2 2.2v2M16.4 11.6v2.2a2.2 2.2 0 0 1-2.2 2.2H12M5.6 16H3.4a2.2 2.2 0 0 1-2.2-2.2v-2.2" fill="none" stroke="#131722" stroke-width="1.2" stroke-linecap="round" stroke-linejoin="round"/></svg>
<svg class="i" style="left:1746.6px;top:6.6px;" width="24" height="19" viewBox="0 0 24 19"><path d="M3.6 4.2h2.8L8 1.4h7l1.6 2.8h2.8a2.4 2.4 0 0 1 2.4 2.4v8.2a2.4 2.4 0 0 1-2.4 2.4H3.6a2.4 2.4 0 0 1-2.4-2.4V6.6a2.4 2.4 0 0 1 2.4-2.4z" fill="none" stroke="#131722" stroke-width="1.2" stroke-linecap="round" stroke-linejoin="round"/><circle cx="11.5" cy="10.6" r="3.8" fill="none" stroke="#131722" stroke-width="1.2" stroke-linecap="round" stroke-linejoin="round"/></svg>
<div style="position:absolute;left:1781.6px;top:2.4px;width:60px;height:27.6px;border-radius:14px;background:#2a2a2e"></div>
<div class="t" style="left:1794.0px;top:8.2px;font-size:14px;line-height:16.8px;color:#fff;letter-spacing:0.00px;">Pu</div>
</div>
</body></html>
